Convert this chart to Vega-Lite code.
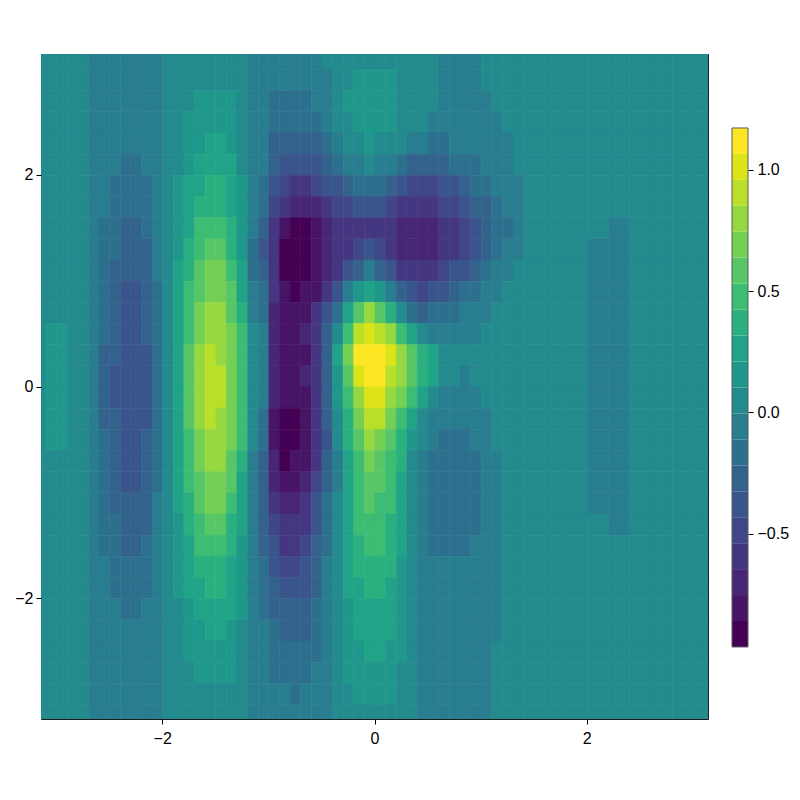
{"$schema":"https://vega.github.io/schema/vega-lite/v6.json","autosize":{"type":"pad"},"padding":{"left":14,"top":53,"right":5,"bottom":5},"background":"white","bounds":"flush","spacing":24,"resolve":{"scale":{"color":"independent"}},"config":{"view":{"stroke":null},"font":"Liberation Sans","axis":{"labelFont":"Liberation Sans","labelFontSize":16,"labelColor":"#000","tickColor":"#000","tickSize":5,"domain":false,"grid":false,"title":null}},
"hconcat":[
{"width":667,"height":665,"view":{"stroke":"#1c1c1c","strokeWidth":1},
"layer":[
{"data":{"values":[
{"x":-3.15,"y":3.1,"z":0.01},{"x":-3.15,"y":2.9,"z":0.01},{"x":-3.15,"y":2.7,"z":0.01},{"x":-3.15,"y":2.5,"z":0.02},{"x":-3.15,"y":2.3,"z":0.02},{"x":-3.15,"y":2.1,"z":0.03},{"x":-3.15,"y":1.9,"z":0.04},{"x":-3.15,"y":1.7,"z":0.04},{"x":-3.15,"y":1.5,"z":0.05},{"x":-3.15,"y":1.3,"z":0.06},{"x":-3.15,"y":1.1,"z":0.07},{"x":-3.15,"y":0.9,"z":0.08},{"x":-3.15,"y":0.7,"z":0.08},{"x":-3.15,"y":0.5,"z":0.09},{"x":-3.15,"y":0.3,"z":0.09},{"x":-3.15,"y":0.1,"z":0.095},{"x":-3.15,"y":-0.1,"z":0.095},{"x":-3.15,"y":-0.3,"z":0.09},{"x":-3.15,"y":-0.5,"z":0.09},{"x":-3.15,"y":-0.7,"z":0.08},{"x":-3.15,"y":-0.9,"z":0.08},{"x":-3.15,"y":-1.1,"z":0.07},{"x":-3.15,"y":-1.3,"z":0.06},{"x":-3.15,"y":-1.5,"z":0.05},{"x":-3.15,"y":-1.7,"z":0.04},{"x":-3.15,"y":-1.9,"z":0.04},{"x":-3.15,"y":-2.1,"z":0.03},{"x":-3.15,"y":-2.3,"z":0.02},{"x":-3.15,"y":-2.5,"z":0.02},{"x":-3.15,"y":-2.7,"z":0.01},{"x":-3.15,"y":-2.9,"z":0.01},{"x":-3.15,"y":-3.1,"z":0.01},
{"x":-3.05,"y":3.1,"z":0.01},{"x":-3.05,"y":2.9,"z":0.01},{"x":-3.05,"y":2.7,"z":0.02},{"x":-3.05,"y":2.5,"z":0.02},{"x":-3.05,"y":2.3,"z":0.03},{"x":-3.05,"y":2.1,"z":0.04},{"x":-3.05,"y":1.9,"z":0.05},{"x":-3.05,"y":1.7,"z":0.06},{"x":-3.05,"y":1.5,"z":0.07},{"x":-3.05,"y":1.3,"z":0.08},{"x":-3.05,"y":1.1,"z":0.09},{"x":-3.05,"y":0.9,"z":0.097},{"x":-3.05,"y":0.7,"z":0.1},{"x":-3.05,"y":0.5,"z":0.112},{"x":-3.05,"y":0.3,"z":0.117},{"x":-3.05,"y":0.1,"z":0.12},{"x":-3.05,"y":-0.1,"z":0.12},{"x":-3.05,"y":-0.3,"z":0.117},{"x":-3.05,"y":-0.5,"z":0.112},{"x":-3.05,"y":-0.7,"z":0.1},{"x":-3.05,"y":-0.9,"z":0.097},{"x":-3.05,"y":-1.1,"z":0.09},{"x":-3.05,"y":-1.3,"z":0.08},{"x":-3.05,"y":-1.5,"z":0.07},{"x":-3.05,"y":-1.7,"z":0.06},{"x":-3.05,"y":-1.9,"z":0.05},{"x":-3.05,"y":-2.1,"z":0.04},{"x":-3.05,"y":-2.3,"z":0.03},{"x":-3.05,"y":-2.5,"z":0.02},{"x":-3.05,"y":-2.7,"z":0.02},{"x":-3.05,"y":-2.9,"z":0.01},{"x":-3.05,"y":-3.1,"z":0.01},
{"x":-2.95,"y":3.1,"z":0.01},{"x":-2.95,"y":2.9,"z":0.01},{"x":-2.95,"y":2.7,"z":0.02},{"x":-2.95,"y":2.5,"z":0.02},{"x":-2.95,"y":2.3,"z":0.03},{"x":-2.95,"y":2.1,"z":0.04},{"x":-2.95,"y":1.9,"z":0.04},{"x":-2.95,"y":1.7,"z":0.05},{"x":-2.95,"y":1.5,"z":0.06},{"x":-2.95,"y":1.3,"z":0.07},{"x":-2.95,"y":1.1,"z":0.08},{"x":-2.95,"y":0.9,"z":0.09},{"x":-2.95,"y":0.7,"z":0.099},{"x":-2.95,"y":0.5,"z":0.105},{"x":-2.95,"y":0.3,"z":0.109},{"x":-2.95,"y":0.1,"z":0.112},{"x":-2.95,"y":-0.1,"z":0.112},{"x":-2.95,"y":-0.3,"z":0.109},{"x":-2.95,"y":-0.5,"z":0.105},{"x":-2.95,"y":-0.7,"z":0.099},{"x":-2.95,"y":-0.9,"z":0.09},{"x":-2.95,"y":-1.1,"z":0.08},{"x":-2.95,"y":-1.3,"z":0.07},{"x":-2.95,"y":-1.5,"z":0.06},{"x":-2.95,"y":-1.7,"z":0.05},{"x":-2.95,"y":-1.9,"z":0.04},{"x":-2.95,"y":-2.1,"z":0.04},{"x":-2.95,"y":-2.3,"z":0.03},{"x":-2.95,"y":-2.5,"z":0.02},{"x":-2.95,"y":-2.7,"z":0.02},{"x":-2.95,"y":-2.9,"z":0.01},{"x":-2.95,"y":-3.1,"z":0.01},
{"x":-2.85,"y":3.1,"z":0.01},{"x":-2.85,"y":2.9,"z":0.01},{"x":-2.85,"y":2.7,"z":0.01},{"x":-2.85,"y":2.5,"z":0.02},{"x":-2.85,"y":2.3,"z":0.02},{"x":-2.85,"y":2.1,"z":0.03},{"x":-2.85,"y":1.9,"z":0.03},{"x":-2.85,"y":1.7,"z":0.04},{"x":-2.85,"y":1.5,"z":0.04},{"x":-2.85,"y":1.3,"z":0.05},{"x":-2.85,"y":1.1,"z":0.06},{"x":-2.85,"y":0.9,"z":0.06},{"x":-2.85,"y":0.7,"z":0.07},{"x":-2.85,"y":0.5,"z":0.07},{"x":-2.85,"y":0.3,"z":0.08},{"x":-2.85,"y":0.1,"z":0.08},{"x":-2.85,"y":-0.1,"z":0.08},{"x":-2.85,"y":-0.3,"z":0.08},{"x":-2.85,"y":-0.5,"z":0.07},{"x":-2.85,"y":-0.7,"z":0.07},{"x":-2.85,"y":-0.9,"z":0.06},{"x":-2.85,"y":-1.1,"z":0.06},{"x":-2.85,"y":-1.3,"z":0.05},{"x":-2.85,"y":-1.5,"z":0.04},{"x":-2.85,"y":-1.7,"z":0.04},{"x":-2.85,"y":-1.9,"z":0.03},{"x":-2.85,"y":-2.1,"z":0.03},{"x":-2.85,"y":-2.3,"z":0.02},{"x":-2.85,"y":-2.5,"z":0.02},{"x":-2.85,"y":-2.7,"z":0.01},{"x":-2.85,"y":-2.9,"z":0.01},{"x":-2.85,"y":-3.1,"z":0.01},
{"x":-2.75,"y":3.1,"z":0},{"x":-2.75,"y":2.9,"z":0},{"x":-2.75,"y":2.7,"z":0},{"x":-2.75,"y":2.5,"z":0},{"x":-2.75,"y":2.3,"z":0},{"x":-2.75,"y":2.1,"z":0},{"x":-2.75,"y":1.9,"z":0.01},{"x":-2.75,"y":1.7,"z":0.01},{"x":-2.75,"y":1.5,"z":0.01},{"x":-2.75,"y":1.3,"z":0.01},{"x":-2.75,"y":1.1,"z":0.01},{"x":-2.75,"y":0.9,"z":0.01},{"x":-2.75,"y":0.7,"z":0.01},{"x":-2.75,"y":0.5,"z":0.01},{"x":-2.75,"y":0.3,"z":0.01},{"x":-2.75,"y":0.1,"z":0.015},{"x":-2.75,"y":-0.1,"z":0.015},{"x":-2.75,"y":-0.3,"z":0.01},{"x":-2.75,"y":-0.5,"z":0.01},{"x":-2.75,"y":-0.7,"z":0.01},{"x":-2.75,"y":-0.9,"z":0.01},{"x":-2.75,"y":-1.1,"z":0.01},{"x":-2.75,"y":-1.3,"z":0.01},{"x":-2.75,"y":-1.5,"z":0.01},{"x":-2.75,"y":-1.7,"z":0.01},{"x":-2.75,"y":-1.9,"z":0},{"x":-2.75,"y":-2.1,"z":0},{"x":-2.75,"y":-2.3,"z":0},{"x":-2.75,"y":-2.5,"z":0},{"x":-2.75,"y":-2.7,"z":0},{"x":-2.75,"y":-2.9,"z":0},{"x":-2.75,"y":-3.1,"z":0},
{"x":-2.65,"y":3.1,"z":-0.01},{"x":-2.65,"y":2.9,"z":-0.01},{"x":-2.65,"y":2.7,"z":-0.01},{"x":-2.65,"y":2.5,"z":-0.02},{"x":-2.65,"y":2.3,"z":-0.02},{"x":-2.65,"y":2.1,"z":-0.03},{"x":-2.65,"y":1.9,"z":-0.04},{"x":-2.65,"y":1.7,"z":-0.04},{"x":-2.65,"y":1.5,"z":-0.05},{"x":-2.65,"y":1.3,"z":-0.06},{"x":-2.65,"y":1.1,"z":-0.07},{"x":-2.65,"y":0.9,"z":-0.07},{"x":-2.65,"y":0.7,"z":-0.08},{"x":-2.65,"y":0.5,"z":-0.08},{"x":-2.65,"y":0.3,"z":-0.09},{"x":-2.65,"y":0.1,"z":-0.09},{"x":-2.65,"y":-0.1,"z":-0.09},{"x":-2.65,"y":-0.3,"z":-0.09},{"x":-2.65,"y":-0.5,"z":-0.08},{"x":-2.65,"y":-0.7,"z":-0.08},{"x":-2.65,"y":-0.9,"z":-0.07},{"x":-2.65,"y":-1.1,"z":-0.07},{"x":-2.65,"y":-1.3,"z":-0.06},{"x":-2.65,"y":-1.5,"z":-0.05},{"x":-2.65,"y":-1.7,"z":-0.04},{"x":-2.65,"y":-1.9,"z":-0.04},{"x":-2.65,"y":-2.1,"z":-0.03},{"x":-2.65,"y":-2.3,"z":-0.02},{"x":-2.65,"y":-2.5,"z":-0.02},{"x":-2.65,"y":-2.7,"z":-0.01},{"x":-2.65,"y":-2.9,"z":-0.01},{"x":-2.65,"y":-3.1,"z":-0.01},
{"x":-2.55,"y":3.1,"z":-0.02},{"x":-2.55,"y":2.9,"z":-0.02},{"x":-2.55,"y":2.7,"z":-0.03},{"x":-2.55,"y":2.5,"z":-0.04},{"x":-2.55,"y":2.3,"z":-0.06},{"x":-2.55,"y":2.1,"z":-0.07},{"x":-2.55,"y":1.9,"z":-0.09},{"x":-2.55,"y":1.7,"z":-0.1},{"x":-2.55,"y":1.5,"z":-0.12},{"x":-2.55,"y":1.3,"z":-0.14},{"x":-2.55,"y":1.1,"z":-0.16},{"x":-2.55,"y":0.9,"z":-0.18},{"x":-2.55,"y":0.7,"z":-0.19},{"x":-2.55,"y":0.5,"z":-0.21},{"x":-2.55,"y":0.3,"z":-0.22},{"x":-2.55,"y":0.1,"z":-0.22},{"x":-2.55,"y":-0.1,"z":-0.22},{"x":-2.55,"y":-0.3,"z":-0.22},{"x":-2.55,"y":-0.5,"z":-0.21},{"x":-2.55,"y":-0.7,"z":-0.19},{"x":-2.55,"y":-0.9,"z":-0.18},{"x":-2.55,"y":-1.1,"z":-0.16},{"x":-2.55,"y":-1.3,"z":-0.14},{"x":-2.55,"y":-1.5,"z":-0.12},{"x":-2.55,"y":-1.7,"z":-0.1},{"x":-2.55,"y":-1.9,"z":-0.09},{"x":-2.55,"y":-2.1,"z":-0.07},{"x":-2.55,"y":-2.3,"z":-0.06},{"x":-2.55,"y":-2.5,"z":-0.04},{"x":-2.55,"y":-2.7,"z":-0.03},{"x":-2.55,"y":-2.9,"z":-0.02},{"x":-2.55,"y":-3.1,"z":-0.02},
{"x":-2.45,"y":3.1,"z":-0.03},{"x":-2.45,"y":2.9,"z":-0.04},{"x":-2.45,"y":2.7,"z":-0.05},{"x":-2.45,"y":2.5,"z":-0.07},{"x":-2.45,"y":2.3,"z":-0.08},{"x":-2.45,"y":2.1,"z":-0.1},{"x":-2.45,"y":1.9,"z":-0.13},{"x":-2.45,"y":1.7,"z":-0.16},{"x":-2.45,"y":1.5,"z":-0.18},{"x":-2.45,"y":1.3,"z":-0.21},{"x":-2.45,"y":1.1,"z":-0.24},{"x":-2.45,"y":0.9,"z":-0.27},{"x":-2.45,"y":0.7,"z":-0.29},{"x":-2.45,"y":0.5,"z":-0.31},{"x":-2.45,"y":0.3,"z":-0.32},{"x":-2.45,"y":0.1,"z":-0.33},{"x":-2.45,"y":-0.1,"z":-0.33},{"x":-2.45,"y":-0.3,"z":-0.32},{"x":-2.45,"y":-0.5,"z":-0.31},{"x":-2.45,"y":-0.7,"z":-0.29},{"x":-2.45,"y":-0.9,"z":-0.27},{"x":-2.45,"y":-1.1,"z":-0.24},{"x":-2.45,"y":-1.3,"z":-0.21},{"x":-2.45,"y":-1.5,"z":-0.18},{"x":-2.45,"y":-1.7,"z":-0.16},{"x":-2.45,"y":-1.9,"z":-0.13},{"x":-2.45,"y":-2.1,"z":-0.1},{"x":-2.45,"y":-2.3,"z":-0.08},{"x":-2.45,"y":-2.5,"z":-0.07},{"x":-2.45,"y":-2.7,"z":-0.05},{"x":-2.45,"y":-2.9,"z":-0.04},{"x":-2.45,"y":-3.1,"z":-0.03},
{"x":-2.35,"y":3.1,"z":-0.03},{"x":-2.35,"y":2.9,"z":-0.05},{"x":-2.35,"y":2.7,"z":-0.06},{"x":-2.35,"y":2.5,"z":-0.08},{"x":-2.35,"y":2.3,"z":-0.11},{"x":-2.35,"y":2.1,"z":-0.13},{"x":-2.35,"y":1.9,"z":-0.16},{"x":-2.35,"y":1.7,"z":-0.2},{"x":-2.35,"y":1.5,"z":-0.23},{"x":-2.35,"y":1.3,"z":-0.27},{"x":-2.35,"y":1.1,"z":-0.31},{"x":-2.35,"y":0.9,"z":-0.34},{"x":-2.35,"y":0.7,"z":-0.37},{"x":-2.35,"y":0.5,"z":-0.39},{"x":-2.35,"y":0.3,"z":-0.41},{"x":-2.35,"y":0.1,"z":-0.42},{"x":-2.35,"y":-0.1,"z":-0.42},{"x":-2.35,"y":-0.3,"z":-0.41},{"x":-2.35,"y":-0.5,"z":-0.39},{"x":-2.35,"y":-0.7,"z":-0.37},{"x":-2.35,"y":-0.9,"z":-0.34},{"x":-2.35,"y":-1.1,"z":-0.31},{"x":-2.35,"y":-1.3,"z":-0.27},{"x":-2.35,"y":-1.5,"z":-0.23},{"x":-2.35,"y":-1.7,"z":-0.2},{"x":-2.35,"y":-1.9,"z":-0.16},{"x":-2.35,"y":-2.1,"z":-0.13},{"x":-2.35,"y":-2.3,"z":-0.11},{"x":-2.35,"y":-2.5,"z":-0.08},{"x":-2.35,"y":-2.7,"z":-0.06},{"x":-2.35,"y":-2.9,"z":-0.05},{"x":-2.35,"y":-3.1,"z":-0.03},
{"x":-2.25,"y":3.1,"z":-0.03},{"x":-2.25,"y":2.9,"z":-0.05},{"x":-2.25,"y":2.7,"z":-0.06},{"x":-2.25,"y":2.5,"z":-0.08},{"x":-2.25,"y":2.3,"z":-0.11},{"x":-2.25,"y":2.1,"z":-0.13},{"x":-2.25,"y":1.9,"z":-0.16},{"x":-2.25,"y":1.7,"z":-0.2},{"x":-2.25,"y":1.5,"z":-0.23},{"x":-2.25,"y":1.3,"z":-0.27},{"x":-2.25,"y":1.1,"z":-0.31},{"x":-2.25,"y":0.9,"z":-0.34},{"x":-2.25,"y":0.7,"z":-0.37},{"x":-2.25,"y":0.5,"z":-0.39},{"x":-2.25,"y":0.3,"z":-0.41},{"x":-2.25,"y":0.1,"z":-0.42},{"x":-2.25,"y":-0.1,"z":-0.42},{"x":-2.25,"y":-0.3,"z":-0.41},{"x":-2.25,"y":-0.5,"z":-0.39},{"x":-2.25,"y":-0.7,"z":-0.37},{"x":-2.25,"y":-0.9,"z":-0.34},{"x":-2.25,"y":-1.1,"z":-0.31},{"x":-2.25,"y":-1.3,"z":-0.27},{"x":-2.25,"y":-1.5,"z":-0.23},{"x":-2.25,"y":-1.7,"z":-0.2},{"x":-2.25,"y":-1.9,"z":-0.16},{"x":-2.25,"y":-2.1,"z":-0.13},{"x":-2.25,"y":-2.3,"z":-0.11},{"x":-2.25,"y":-2.5,"z":-0.08},{"x":-2.25,"y":-2.7,"z":-0.06},{"x":-2.25,"y":-2.9,"z":-0.05},{"x":-2.25,"y":-3.1,"z":-0.03},
{"x":-2.15,"y":3.1,"z":-0.03},{"x":-2.15,"y":2.9,"z":-0.04},{"x":-2.15,"y":2.7,"z":-0.05},{"x":-2.15,"y":2.5,"z":-0.07},{"x":-2.15,"y":2.3,"z":-0.09},{"x":-2.15,"y":2.1,"z":-0.11},{"x":-2.15,"y":1.9,"z":-0.13},{"x":-2.15,"y":1.7,"z":-0.16},{"x":-2.15,"y":1.5,"z":-0.19},{"x":-2.15,"y":1.3,"z":-0.22},{"x":-2.15,"y":1.1,"z":-0.25},{"x":-2.15,"y":0.9,"z":-0.28},{"x":-2.15,"y":0.7,"z":-0.3},{"x":-2.15,"y":0.5,"z":-0.32},{"x":-2.15,"y":0.3,"z":-0.33},{"x":-2.15,"y":0.1,"z":-0.34},{"x":-2.15,"y":-0.1,"z":-0.34},{"x":-2.15,"y":-0.3,"z":-0.33},{"x":-2.15,"y":-0.5,"z":-0.32},{"x":-2.15,"y":-0.7,"z":-0.3},{"x":-2.15,"y":-0.9,"z":-0.28},{"x":-2.15,"y":-1.1,"z":-0.25},{"x":-2.15,"y":-1.3,"z":-0.22},{"x":-2.15,"y":-1.5,"z":-0.19},{"x":-2.15,"y":-1.7,"z":-0.16},{"x":-2.15,"y":-1.9,"z":-0.13},{"x":-2.15,"y":-2.1,"z":-0.11},{"x":-2.15,"y":-2.3,"z":-0.09},{"x":-2.15,"y":-2.5,"z":-0.07},{"x":-2.15,"y":-2.7,"z":-0.05},{"x":-2.15,"y":-2.9,"z":-0.04},{"x":-2.15,"y":-3.1,"z":-0.03},
{"x":-2.05,"y":3.1,"z":-0.01},{"x":-2.05,"y":2.9,"z":-0.02},{"x":-2.05,"y":2.7,"z":-0.02},{"x":-2.05,"y":2.5,"z":-0.03},{"x":-2.05,"y":2.3,"z":-0.04},{"x":-2.05,"y":2.1,"z":-0.05},{"x":-2.05,"y":1.9,"z":-0.06},{"x":-2.05,"y":1.7,"z":-0.07},{"x":-2.05,"y":1.5,"z":-0.08},{"x":-2.05,"y":1.3,"z":-0.1},{"x":-2.05,"y":1.1,"z":-0.11},{"x":-2.05,"y":0.9,"z":-0.12},{"x":-2.05,"y":0.7,"z":-0.13},{"x":-2.05,"y":0.5,"z":-0.14},{"x":-2.05,"y":0.3,"z":-0.15},{"x":-2.05,"y":0.1,"z":-0.15},{"x":-2.05,"y":-0.1,"z":-0.15},{"x":-2.05,"y":-0.3,"z":-0.15},{"x":-2.05,"y":-0.5,"z":-0.14},{"x":-2.05,"y":-0.7,"z":-0.13},{"x":-2.05,"y":-0.9,"z":-0.12},{"x":-2.05,"y":-1.1,"z":-0.11},{"x":-2.05,"y":-1.3,"z":-0.1},{"x":-2.05,"y":-1.5,"z":-0.08},{"x":-2.05,"y":-1.7,"z":-0.07},{"x":-2.05,"y":-1.9,"z":-0.06},{"x":-2.05,"y":-2.1,"z":-0.05},{"x":-2.05,"y":-2.3,"z":-0.04},{"x":-2.05,"y":-2.5,"z":-0.03},{"x":-2.05,"y":-2.7,"z":-0.02},{"x":-2.05,"y":-2.9,"z":-0.02},{"x":-2.05,"y":-3.1,"z":-0.01},
{"x":-1.95,"y":3.1,"z":0.01},{"x":-1.95,"y":2.9,"z":0.01},{"x":-1.95,"y":2.7,"z":0.01},{"x":-1.95,"y":2.5,"z":0.01},{"x":-1.95,"y":2.3,"z":0.02},{"x":-1.95,"y":2.1,"z":0.02},{"x":-1.95,"y":1.9,"z":0.02},{"x":-1.95,"y":1.7,"z":0.03},{"x":-1.95,"y":1.5,"z":0.03},{"x":-1.95,"y":1.3,"z":0.04},{"x":-1.95,"y":1.1,"z":0.04},{"x":-1.95,"y":0.9,"z":0.05},{"x":-1.95,"y":0.7,"z":0.05},{"x":-1.95,"y":0.5,"z":0.06},{"x":-1.95,"y":0.3,"z":0.06},{"x":-1.95,"y":0.1,"z":0.06},{"x":-1.95,"y":-0.1,"z":0.06},{"x":-1.95,"y":-0.3,"z":0.06},{"x":-1.95,"y":-0.5,"z":0.06},{"x":-1.95,"y":-0.7,"z":0.05},{"x":-1.95,"y":-0.9,"z":0.05},{"x":-1.95,"y":-1.1,"z":0.04},{"x":-1.95,"y":-1.3,"z":0.04},{"x":-1.95,"y":-1.5,"z":0.03},{"x":-1.95,"y":-1.7,"z":0.03},{"x":-1.95,"y":-1.9,"z":0.02},{"x":-1.95,"y":-2.1,"z":0.02},{"x":-1.95,"y":-2.3,"z":0.02},{"x":-1.95,"y":-2.5,"z":0.01},{"x":-1.95,"y":-2.7,"z":0.01},{"x":-1.95,"y":-2.9,"z":0.01},{"x":-1.95,"y":-3.1,"z":0.01},
{"x":-1.85,"y":3.1,"z":0.02},{"x":-1.85,"y":2.9,"z":0.03},{"x":-1.85,"y":2.7,"z":0.05},{"x":-1.85,"y":2.5,"z":0.06},{"x":-1.85,"y":2.3,"z":0.08},{"x":-1.85,"y":2.1,"z":0.1},{"x":-1.85,"y":1.9,"z":0.12},{"x":-1.85,"y":1.7,"z":0.14},{"x":-1.85,"y":1.5,"z":0.17},{"x":-1.85,"y":1.3,"z":0.19},{"x":-1.85,"y":1.1,"z":0.22},{"x":-1.85,"y":0.9,"z":0.24},{"x":-1.85,"y":0.7,"z":0.26},{"x":-1.85,"y":0.5,"z":0.28},{"x":-1.85,"y":0.3,"z":0.29},{"x":-1.85,"y":0.1,"z":0.3},{"x":-1.85,"y":-0.1,"z":0.3},{"x":-1.85,"y":-0.3,"z":0.29},{"x":-1.85,"y":-0.5,"z":0.28},{"x":-1.85,"y":-0.7,"z":0.26},{"x":-1.85,"y":-0.9,"z":0.24},{"x":-1.85,"y":-1.1,"z":0.22},{"x":-1.85,"y":-1.3,"z":0.19},{"x":-1.85,"y":-1.5,"z":0.17},{"x":-1.85,"y":-1.7,"z":0.14},{"x":-1.85,"y":-1.9,"z":0.12},{"x":-1.85,"y":-2.1,"z":0.1},{"x":-1.85,"y":-2.3,"z":0.08},{"x":-1.85,"y":-2.5,"z":0.06},{"x":-1.85,"y":-2.7,"z":0.05},{"x":-1.85,"y":-2.9,"z":0.03},{"x":-1.85,"y":-3.1,"z":0.02},
{"x":-1.75,"y":3.1,"z":0.05},{"x":-1.75,"y":2.9,"z":0.06},{"x":-1.75,"y":2.7,"z":0.08},{"x":-1.75,"y":2.5,"z":0.11},{"x":-1.75,"y":2.3,"z":0.14},{"x":-1.75,"y":2.1,"z":0.18},{"x":-1.75,"y":1.9,"z":0.22},{"x":-1.75,"y":1.7,"z":0.26},{"x":-1.75,"y":1.5,"z":0.31},{"x":-1.75,"y":1.3,"z":0.36},{"x":-1.75,"y":1.1,"z":0.41},{"x":-1.75,"y":0.9,"z":0.45},{"x":-1.75,"y":0.7,"z":0.49},{"x":-1.75,"y":0.5,"z":0.52},{"x":-1.75,"y":0.3,"z":0.55},{"x":-1.75,"y":0.1,"z":0.56},{"x":-1.75,"y":-0.1,"z":0.56},{"x":-1.75,"y":-0.3,"z":0.55},{"x":-1.75,"y":-0.5,"z":0.52},{"x":-1.75,"y":-0.7,"z":0.49},{"x":-1.75,"y":-0.9,"z":0.45},{"x":-1.75,"y":-1.1,"z":0.41},{"x":-1.75,"y":-1.3,"z":0.36},{"x":-1.75,"y":-1.5,"z":0.31},{"x":-1.75,"y":-1.7,"z":0.26},{"x":-1.75,"y":-1.9,"z":0.22},{"x":-1.75,"y":-2.1,"z":0.18},{"x":-1.75,"y":-2.3,"z":0.14},{"x":-1.75,"y":-2.5,"z":0.11},{"x":-1.75,"y":-2.7,"z":0.08},{"x":-1.75,"y":-2.9,"z":0.06},{"x":-1.75,"y":-3.1,"z":0.05},
{"x":-1.65,"y":3.1,"z":0.06},{"x":-1.65,"y":2.9,"z":0.09},{"x":-1.65,"y":2.7,"z":0.12},{"x":-1.65,"y":2.5,"z":0.15},{"x":-1.65,"y":2.3,"z":0.2},{"x":-1.65,"y":2.1,"z":0.25},{"x":-1.65,"y":1.9,"z":0.3},{"x":-1.65,"y":1.7,"z":0.37},{"x":-1.65,"y":1.5,"z":0.43},{"x":-1.65,"y":1.3,"z":0.5},{"x":-1.65,"y":1.1,"z":0.57},{"x":-1.65,"y":0.9,"z":0.63},{"x":-1.65,"y":0.7,"z":0.69},{"x":-1.65,"y":0.5,"z":0.73},{"x":-1.65,"y":0.3,"z":0.76},{"x":-1.65,"y":0.1,"z":0.78},{"x":-1.65,"y":-0.1,"z":0.78},{"x":-1.65,"y":-0.3,"z":0.76},{"x":-1.65,"y":-0.5,"z":0.73},{"x":-1.65,"y":-0.7,"z":0.69},{"x":-1.65,"y":-0.9,"z":0.63},{"x":-1.65,"y":-1.1,"z":0.57},{"x":-1.65,"y":-1.3,"z":0.5},{"x":-1.65,"y":-1.5,"z":0.43},{"x":-1.65,"y":-1.7,"z":0.37},{"x":-1.65,"y":-1.9,"z":0.3},{"x":-1.65,"y":-2.1,"z":0.25},{"x":-1.65,"y":-2.3,"z":0.2},{"x":-1.65,"y":-2.5,"z":0.15},{"x":-1.65,"y":-2.7,"z":0.12},{"x":-1.65,"y":-2.9,"z":0.09},{"x":-1.65,"y":-3.1,"z":0.06},
{"x":-1.55,"y":3.1,"z":0.07},{"x":-1.55,"y":2.9,"z":0.1},{"x":-1.55,"y":2.7,"z":0.13},{"x":-1.55,"y":2.5,"z":0.18},{"x":-1.55,"y":2.3,"z":0.23},{"x":-1.55,"y":2.1,"z":0.28},{"x":-1.55,"y":1.9,"z":0.35},{"x":-1.55,"y":1.7,"z":0.42},{"x":-1.55,"y":1.5,"z":0.5},{"x":-1.55,"y":1.3,"z":0.57},{"x":-1.55,"y":1.1,"z":0.65},{"x":-1.55,"y":0.9,"z":0.72},{"x":-1.55,"y":0.7,"z":0.78},{"x":-1.55,"y":0.5,"z":0.83},{"x":-1.55,"y":0.3,"z":0.87},{"x":-1.55,"y":0.1,"z":0.89},{"x":-1.55,"y":-0.1,"z":0.89},{"x":-1.55,"y":-0.3,"z":0.87},{"x":-1.55,"y":-0.5,"z":0.83},{"x":-1.55,"y":-0.7,"z":0.78},{"x":-1.55,"y":-0.9,"z":0.72},{"x":-1.55,"y":-1.1,"z":0.65},{"x":-1.55,"y":-1.3,"z":0.57},{"x":-1.55,"y":-1.5,"z":0.5},{"x":-1.55,"y":-1.7,"z":0.42},{"x":-1.55,"y":-1.9,"z":0.35},{"x":-1.55,"y":-2.1,"z":0.28},{"x":-1.55,"y":-2.3,"z":0.23},{"x":-1.55,"y":-2.5,"z":0.18},{"x":-1.55,"y":-2.7,"z":0.13},{"x":-1.55,"y":-2.9,"z":0.1},{"x":-1.55,"y":-3.1,"z":0.07},
{"x":-1.45,"y":3.1,"z":0.07},{"x":-1.45,"y":2.9,"z":0.1},{"x":-1.45,"y":2.7,"z":0.13},{"x":-1.45,"y":2.5,"z":0.17},{"x":-1.45,"y":2.3,"z":0.22},{"x":-1.45,"y":2.1,"z":0.28},{"x":-1.45,"y":1.9,"z":0.34},{"x":-1.45,"y":1.7,"z":0.41},{"x":-1.45,"y":1.5,"z":0.48},{"x":-1.45,"y":1.3,"z":0.56},{"x":-1.45,"y":1.1,"z":0.64},{"x":-1.45,"y":0.9,"z":0.7},{"x":-1.45,"y":0.7,"z":0.77},{"x":-1.45,"y":0.5,"z":0.82},{"x":-1.45,"y":0.3,"z":0.85},{"x":-1.45,"y":0.1,"z":0.87},{"x":-1.45,"y":-0.1,"z":0.87},{"x":-1.45,"y":-0.3,"z":0.85},{"x":-1.45,"y":-0.5,"z":0.82},{"x":-1.45,"y":-0.7,"z":0.77},{"x":-1.45,"y":-0.9,"z":0.7},{"x":-1.45,"y":-1.1,"z":0.64},{"x":-1.45,"y":-1.3,"z":0.56},{"x":-1.45,"y":-1.5,"z":0.48},{"x":-1.45,"y":-1.7,"z":0.41},{"x":-1.45,"y":-1.9,"z":0.34},{"x":-1.45,"y":-2.1,"z":0.28},{"x":-1.45,"y":-2.3,"z":0.22},{"x":-1.45,"y":-2.5,"z":0.17},{"x":-1.45,"y":-2.7,"z":0.13},{"x":-1.45,"y":-2.9,"z":0.1},{"x":-1.45,"y":-3.1,"z":0.07},
{"x":-1.35,"y":3.1,"z":0.06},{"x":-1.35,"y":2.9,"z":0.08},{"x":-1.35,"y":2.7,"z":0.11},{"x":-1.35,"y":2.5,"z":0.14},{"x":-1.35,"y":2.3,"z":0.18},{"x":-1.35,"y":2.1,"z":0.23},{"x":-1.35,"y":1.9,"z":0.26},{"x":-1.35,"y":1.7,"z":0.31},{"x":-1.35,"y":1.5,"z":0.37},{"x":-1.35,"y":1.3,"z":0.42},{"x":-1.35,"y":1.1,"z":0.49},{"x":-1.35,"y":0.9,"z":0.58},{"x":-1.35,"y":0.7,"z":0.63},{"x":-1.35,"y":0.5,"z":0.67},{"x":-1.35,"y":0.3,"z":0.7},{"x":-1.35,"y":0.1,"z":0.72},{"x":-1.35,"y":-0.1,"z":0.72},{"x":-1.35,"y":-0.3,"z":0.7},{"x":-1.35,"y":-0.5,"z":0.67},{"x":-1.35,"y":-0.7,"z":0.63},{"x":-1.35,"y":-0.9,"z":0.58},{"x":-1.35,"y":-1.1,"z":0.49},{"x":-1.35,"y":-1.3,"z":0.42},{"x":-1.35,"y":-1.5,"z":0.37},{"x":-1.35,"y":-1.7,"z":0.31},{"x":-1.35,"y":-1.9,"z":0.26},{"x":-1.35,"y":-2.1,"z":0.23},{"x":-1.35,"y":-2.3,"z":0.18},{"x":-1.35,"y":-2.5,"z":0.14},{"x":-1.35,"y":-2.7,"z":0.11},{"x":-1.35,"y":-2.9,"z":0.08},{"x":-1.35,"y":-3.1,"z":0.06},
{"x":-1.25,"y":3.1,"z":0.03},{"x":-1.25,"y":2.9,"z":0.03},{"x":-1.25,"y":2.7,"z":0.05},{"x":-1.25,"y":2.5,"z":0.06},{"x":-1.25,"y":2.3,"z":0.08},{"x":-1.25,"y":2.1,"z":0.1},{"x":-1.25,"y":1.9,"z":0.12},{"x":-1.25,"y":1.7,"z":0.15},{"x":-1.25,"y":1.5,"z":0.17},{"x":-1.25,"y":1.3,"z":0.2},{"x":-1.25,"y":1.1,"z":0.22},{"x":-1.25,"y":0.9,"z":0.3},{"x":-1.25,"y":0.7,"z":0.4},{"x":-1.25,"y":0.5,"z":0.47},{"x":-1.25,"y":0.3,"z":0.51},{"x":-1.25,"y":0.1,"z":0.52},{"x":-1.25,"y":-0.1,"z":0.52},{"x":-1.25,"y":-0.3,"z":0.5},{"x":-1.25,"y":-0.5,"z":0.46},{"x":-1.25,"y":-0.7,"z":0.4},{"x":-1.25,"y":-0.9,"z":0.31},{"x":-1.25,"y":-1.1,"z":0.26},{"x":-1.25,"y":-1.3,"z":0.23},{"x":-1.25,"y":-1.5,"z":0.2},{"x":-1.25,"y":-1.7,"z":0.17},{"x":-1.25,"y":-1.9,"z":0.14},{"x":-1.25,"y":-2.1,"z":0.11},{"x":-1.25,"y":-2.3,"z":0.09},{"x":-1.25,"y":-2.5,"z":0.07},{"x":-1.25,"y":-2.7,"z":0.05},{"x":-1.25,"y":-2.9,"z":0.04},{"x":-1.25,"y":-3.1,"z":0.03},
{"x":-1.15,"y":3.1,"z":-0.01},{"x":-1.15,"y":2.9,"z":-0.01},{"x":-1.15,"y":2.7,"z":-0.01},{"x":-1.15,"y":2.5,"z":-0.02},{"x":-1.15,"y":2.3,"z":-0.02},{"x":-1.15,"y":2.1,"z":-0.03},{"x":-1.15,"y":1.9,"z":-0.04},{"x":-1.15,"y":1.7,"z":-0.06},{"x":-1.15,"y":1.5,"z":-0.1},{"x":-1.15,"y":1.3,"z":-0.15},{"x":-1.15,"y":1.1,"z":-0.12},{"x":-1.15,"y":0.9,"z":-0.06},{"x":-1.15,"y":0.7,"z":-0.01},{"x":-1.15,"y":0.5,"z":0.03},{"x":-1.15,"y":0.3,"z":0.07},{"x":-1.15,"y":0.1,"z":0.1},{"x":-1.15,"y":-0.1,"z":0.1},{"x":-1.15,"y":-0.3,"z":0.07},{"x":-1.15,"y":-0.5,"z":0.02},{"x":-1.15,"y":-0.7,"z":-0.01},{"x":-1.15,"y":-0.9,"z":-0.02},{"x":-1.15,"y":-1.1,"z":-0.03},{"x":-1.15,"y":-1.3,"z":-0.03},{"x":-1.15,"y":-1.5,"z":-0.02},{"x":-1.15,"y":-1.7,"z":-0.02},{"x":-1.15,"y":-1.9,"z":-0.02},{"x":-1.15,"y":-2.1,"z":-0.01},{"x":-1.15,"y":-2.3,"z":-0.01},{"x":-1.15,"y":-2.5,"z":-0.01},{"x":-1.15,"y":-2.7,"z":-0.01},{"x":-1.15,"y":-2.9,"z":-0.01},{"x":-1.15,"y":-3.1,"z":-0.01},
{"x":-1.05,"y":3.1,"z":-0.03},{"x":-1.05,"y":2.9,"z":-0.04},{"x":-1.05,"y":2.7,"z":-0.05},{"x":-1.05,"y":2.5,"z":-0.06},{"x":-1.05,"y":2.3,"z":-0.08},{"x":-1.05,"y":2.1,"z":-0.1},{"x":-1.05,"y":1.9,"z":-0.13},{"x":-1.05,"y":1.7,"z":-0.2},{"x":-1.05,"y":1.5,"z":-0.3},{"x":-1.05,"y":1.3,"z":-0.38},{"x":-1.05,"y":1.1,"z":-0.32},{"x":-1.05,"y":0.9,"z":-0.2},{"x":-1.05,"y":0.7,"z":-0.13},{"x":-1.05,"y":0.5,"z":-0.08},{"x":-1.05,"y":0.3,"z":-0.04},{"x":-1.05,"y":0.1,"z":-0.03},{"x":-1.05,"y":-0.1,"z":-0.05},{"x":-1.05,"y":-0.3,"z":-0.12},{"x":-1.05,"y":-0.5,"z":-0.2},{"x":-1.05,"y":-0.7,"z":-0.25},{"x":-1.05,"y":-0.9,"z":-0.28},{"x":-1.05,"y":-1.1,"z":-0.32},{"x":-1.05,"y":-1.3,"z":-0.28},{"x":-1.05,"y":-1.5,"z":-0.25},{"x":-1.05,"y":-1.7,"z":-0.21},{"x":-1.05,"y":-1.9,"z":-0.18},{"x":-1.05,"y":-2.1,"z":-0.14},{"x":-1.05,"y":-2.3,"z":-0.11},{"x":-1.05,"y":-2.5,"z":-0.09},{"x":-1.05,"y":-2.7,"z":-0.07},{"x":-1.05,"y":-2.9,"z":-0.05},{"x":-1.05,"y":-3.1,"z":-0.04},
{"x":-0.95,"y":3.1,"z":-0.06},{"x":-0.95,"y":2.9,"z":-0.08},{"x":-0.95,"y":2.7,"z":-0.12},{"x":-0.95,"y":2.5,"z":-0.16},{"x":-0.95,"y":2.3,"z":-0.22},{"x":-0.95,"y":2.1,"z":-0.28},{"x":-0.95,"y":1.9,"z":-0.36},{"x":-0.95,"y":1.7,"z":-0.45},{"x":-0.95,"y":1.5,"z":-0.55},{"x":-0.95,"y":1.3,"z":-0.6},{"x":-0.95,"y":1.1,"z":-0.6},{"x":-0.95,"y":0.9,"z":-0.62},{"x":-0.95,"y":0.7,"z":-0.65},{"x":-0.95,"y":0.5,"z":-0.68},{"x":-0.95,"y":0.3,"z":-0.7},{"x":-0.95,"y":0.1,"z":-0.72},{"x":-0.95,"y":-0.1,"z":-0.74},{"x":-0.95,"y":-0.3,"z":-0.76},{"x":-0.95,"y":-0.5,"z":-0.77},{"x":-0.95,"y":-0.7,"z":-0.73},{"x":-0.95,"y":-0.9,"z":-0.66},{"x":-0.95,"y":-1.1,"z":-0.55},{"x":-0.95,"y":-1.3,"z":-0.49},{"x":-0.95,"y":-1.5,"z":-0.43},{"x":-0.95,"y":-1.7,"z":-0.37},{"x":-0.95,"y":-1.9,"z":-0.31},{"x":-0.95,"y":-2.1,"z":-0.24},{"x":-0.95,"y":-2.3,"z":-0.2},{"x":-0.95,"y":-2.5,"z":-0.16},{"x":-0.95,"y":-2.7,"z":-0.12},{"x":-0.95,"y":-2.9,"z":-0.09},{"x":-0.95,"y":-3.1,"z":-0.07},
{"x":-0.85,"y":3.1,"z":-0.07},{"x":-0.85,"y":2.9,"z":-0.11},{"x":-0.85,"y":2.7,"z":-0.14},{"x":-0.85,"y":2.5,"z":-0.2},{"x":-0.85,"y":2.3,"z":-0.27},{"x":-0.85,"y":2.1,"z":-0.37},{"x":-0.85,"y":1.9,"z":-0.48},{"x":-0.85,"y":1.7,"z":-0.62},{"x":-0.85,"y":1.5,"z":-0.8},{"x":-0.85,"y":1.3,"z":-0.88},{"x":-0.85,"y":1.1,"z":-0.88},{"x":-0.85,"y":0.9,"z":-0.83},{"x":-0.85,"y":0.7,"z":-0.8},{"x":-0.85,"y":0.5,"z":-0.79},{"x":-0.85,"y":0.3,"z":-0.79},{"x":-0.85,"y":0.1,"z":-0.81},{"x":-0.85,"y":-0.1,"z":-0.84},{"x":-0.85,"y":-0.3,"z":-0.87},{"x":-0.85,"y":-0.5,"z":-0.87},{"x":-0.85,"y":-0.7,"z":-0.87},{"x":-0.85,"y":-0.9,"z":-0.8},{"x":-0.85,"y":-1.1,"z":-0.69},{"x":-0.85,"y":-1.3,"z":-0.61},{"x":-0.85,"y":-1.5,"z":-0.54},{"x":-0.85,"y":-1.7,"z":-0.46},{"x":-0.85,"y":-1.9,"z":-0.38},{"x":-0.85,"y":-2.1,"z":-0.31},{"x":-0.85,"y":-2.3,"z":-0.25},{"x":-0.85,"y":-2.5,"z":-0.2},{"x":-0.85,"y":-2.7,"z":-0.15},{"x":-0.85,"y":-2.9,"z":-0.11},{"x":-0.85,"y":-3.1,"z":-0.09},
{"x":-0.75,"y":3.1,"z":-0.08},{"x":-0.75,"y":2.9,"z":-0.11},{"x":-0.75,"y":2.7,"z":-0.15},{"x":-0.75,"y":2.5,"z":-0.2},{"x":-0.75,"y":2.3,"z":-0.28},{"x":-0.75,"y":2.1,"z":-0.4},{"x":-0.75,"y":1.9,"z":-0.55},{"x":-0.75,"y":1.7,"z":-0.74},{"x":-0.75,"y":1.5,"z":-0.88},{"x":-0.75,"y":1.3,"z":-0.95},{"x":-0.75,"y":1.1,"z":-0.95},{"x":-0.75,"y":0.9,"z":-0.89},{"x":-0.75,"y":0.7,"z":-0.83},{"x":-0.75,"y":0.5,"z":-0.8},{"x":-0.75,"y":0.3,"z":-0.79},{"x":-0.75,"y":0.1,"z":-0.8},{"x":-0.75,"y":-0.1,"z":-0.84},{"x":-0.75,"y":-0.3,"z":-0.87},{"x":-0.75,"y":-0.5,"z":-0.88},{"x":-0.75,"y":-0.7,"z":-0.86},{"x":-0.75,"y":-0.9,"z":-0.79},{"x":-0.75,"y":-1.1,"z":-0.71},{"x":-0.75,"y":-1.3,"z":-0.63},{"x":-0.75,"y":-1.5,"z":-0.56},{"x":-0.75,"y":-1.7,"z":-0.48},{"x":-0.75,"y":-1.9,"z":-0.4},{"x":-0.75,"y":-2.1,"z":-0.32},{"x":-0.75,"y":-2.3,"z":-0.26},{"x":-0.75,"y":-2.5,"z":-0.21},{"x":-0.75,"y":-2.7,"z":-0.16},{"x":-0.75,"y":-2.9,"z":-0.12},{"x":-0.75,"y":-3.1,"z":-0.09},
{"x":-0.65,"y":3.1,"z":-0.06},{"x":-0.65,"y":2.9,"z":-0.09},{"x":-0.65,"y":2.7,"z":-0.13},{"x":-0.65,"y":2.5,"z":-0.18},{"x":-0.65,"y":2.3,"z":-0.26},{"x":-0.65,"y":2.1,"z":-0.38},{"x":-0.65,"y":1.9,"z":-0.54},{"x":-0.65,"y":1.7,"z":-0.72},{"x":-0.65,"y":1.5,"z":-0.87},{"x":-0.65,"y":1.3,"z":-0.95},{"x":-0.65,"y":1.1,"z":-0.93},{"x":-0.65,"y":0.9,"z":-0.86},{"x":-0.65,"y":0.7,"z":-0.78},{"x":-0.65,"y":0.5,"z":-0.75},{"x":-0.65,"y":0.3,"z":-0.77},{"x":-0.65,"y":0.1,"z":-0.75},{"x":-0.65,"y":-0.1,"z":-0.76},{"x":-0.65,"y":-0.3,"z":-0.78},{"x":-0.65,"y":-0.5,"z":-0.79},{"x":-0.65,"y":-0.7,"z":-0.76},{"x":-0.65,"y":-0.9,"z":-0.7},{"x":-0.65,"y":-1.1,"z":-0.62},{"x":-0.65,"y":-1.3,"z":-0.55},{"x":-0.65,"y":-1.5,"z":-0.48},{"x":-0.65,"y":-1.7,"z":-0.41},{"x":-0.65,"y":-1.9,"z":-0.34},{"x":-0.65,"y":-2.1,"z":-0.27},{"x":-0.65,"y":-2.3,"z":-0.22},{"x":-0.65,"y":-2.5,"z":-0.18},{"x":-0.65,"y":-2.7,"z":-0.14},{"x":-0.65,"y":-2.9,"z":-0.1},{"x":-0.65,"y":-3.1,"z":-0.08},
{"x":-0.55,"y":3.1,"z":-0.03},{"x":-0.55,"y":2.9,"z":-0.05},{"x":-0.55,"y":2.7,"z":-0.08},{"x":-0.55,"y":2.5,"z":-0.12},{"x":-0.55,"y":2.3,"z":-0.23},{"x":-0.55,"y":2.1,"z":-0.34},{"x":-0.55,"y":1.9,"z":-0.49},{"x":-0.55,"y":1.7,"z":-0.66},{"x":-0.55,"y":1.5,"z":-0.81},{"x":-0.55,"y":1.3,"z":-0.85},{"x":-0.55,"y":1.1,"z":-0.85},{"x":-0.55,"y":0.9,"z":-0.76},{"x":-0.55,"y":0.7,"z":-0.64},{"x":-0.55,"y":0.5,"z":-0.57},{"x":-0.55,"y":0.3,"z":-0.56},{"x":-0.55,"y":0.1,"z":-0.55},{"x":-0.55,"y":-0.1,"z":-0.56},{"x":-0.55,"y":-0.3,"z":-0.58},{"x":-0.55,"y":-0.5,"z":-0.6},{"x":-0.55,"y":-0.7,"z":-0.57},{"x":-0.55,"y":-0.9,"z":-0.52},{"x":-0.55,"y":-1.1,"z":-0.42},{"x":-0.55,"y":-1.3,"z":-0.37},{"x":-0.55,"y":-1.5,"z":-0.32},{"x":-0.55,"y":-1.7,"z":-0.28},{"x":-0.55,"y":-1.9,"z":-0.23},{"x":-0.55,"y":-2.1,"z":-0.19},{"x":-0.55,"y":-2.3,"z":-0.15},{"x":-0.55,"y":-2.5,"z":-0.12},{"x":-0.55,"y":-2.7,"z":-0.09},{"x":-0.55,"y":-2.9,"z":-0.07},{"x":-0.55,"y":-3.1,"z":-0.05},
{"x":-0.45,"y":3.1,"z":0},{"x":-0.45,"y":2.9,"z":-0.01},{"x":-0.45,"y":2.7,"z":-0.02},{"x":-0.45,"y":2.5,"z":-0.06},{"x":-0.45,"y":2.3,"z":-0.14},{"x":-0.45,"y":2.1,"z":-0.27},{"x":-0.45,"y":1.9,"z":-0.4},{"x":-0.45,"y":1.7,"z":-0.56},{"x":-0.45,"y":1.5,"z":-0.71},{"x":-0.45,"y":1.3,"z":-0.75},{"x":-0.45,"y":1.1,"z":-0.7},{"x":-0.45,"y":0.9,"z":-0.57},{"x":-0.45,"y":0.7,"z":-0.42},{"x":-0.45,"y":0.5,"z":-0.3},{"x":-0.45,"y":0.3,"z":-0.22},{"x":-0.45,"y":0.1,"z":-0.22},{"x":-0.45,"y":-0.1,"z":-0.26},{"x":-0.45,"y":-0.3,"z":-0.3},{"x":-0.45,"y":-0.5,"z":-0.33},{"x":-0.45,"y":-0.7,"z":-0.32},{"x":-0.45,"y":-0.9,"z":-0.24},{"x":-0.45,"y":-1.1,"z":-0.18},{"x":-0.45,"y":-1.3,"z":-0.15},{"x":-0.45,"y":-1.5,"z":-0.12},{"x":-0.45,"y":-1.7,"z":-0.1},{"x":-0.45,"y":-1.9,"z":-0.08},{"x":-0.45,"y":-2.1,"z":-0.07},{"x":-0.45,"y":-2.3,"z":-0.05},{"x":-0.45,"y":-2.5,"z":-0.04},{"x":-0.45,"y":-2.7,"z":-0.03},{"x":-0.45,"y":-2.9,"z":-0.02},{"x":-0.45,"y":-3.1,"z":-0.02},
{"x":-0.35,"y":3.1,"z":0.03},{"x":-0.35,"y":2.9,"z":0.04},{"x":-0.35,"y":2.7,"z":0.05},{"x":-0.35,"y":2.5,"z":0},{"x":-0.35,"y":2.3,"z":-0.04},{"x":-0.35,"y":2.1,"z":-0.16},{"x":-0.35,"y":1.9,"z":-0.33},{"x":-0.35,"y":1.7,"z":-0.5},{"x":-0.35,"y":1.5,"z":-0.64},{"x":-0.35,"y":1.3,"z":-0.64},{"x":-0.35,"y":1.1,"z":-0.56},{"x":-0.35,"y":0.9,"z":-0.36},{"x":-0.35,"y":0.7,"z":-0.12},{"x":-0.35,"y":0.5,"z":0.05},{"x":-0.35,"y":0.3,"z":0.25},{"x":-0.35,"y":0.1,"z":0.2},{"x":-0.35,"y":-0.1,"z":0.12},{"x":-0.35,"y":-0.3,"z":0.05},{"x":-0.35,"y":-0.5,"z":0},{"x":-0.35,"y":-0.7,"z":-0.03},{"x":-0.35,"y":-0.9,"z":-0.04},{"x":-0.35,"y":-1.1,"z":0.05},{"x":-0.35,"y":-1.3,"z":0.09},{"x":-0.35,"y":-1.5,"z":0.1},{"x":-0.35,"y":-1.7,"z":0.1},{"x":-0.35,"y":-1.9,"z":0.1},{"x":-0.35,"y":-2.1,"z":0.08},{"x":-0.35,"y":-2.3,"z":0.08},{"x":-0.35,"y":-2.5,"z":0.07},{"x":-0.35,"y":-2.7,"z":0.06},{"x":-0.35,"y":-2.9,"z":0.04},{"x":-0.35,"y":-3.1,"z":0.03},
{"x":-0.25,"y":3.1,"z":0.05},{"x":-0.25,"y":2.9,"z":0.09},{"x":-0.25,"y":2.7,"z":0.11},{"x":-0.25,"y":2.5,"z":0.1},{"x":-0.25,"y":2.3,"z":0.01},{"x":-0.25,"y":2.1,"z":-0.07},{"x":-0.25,"y":1.9,"z":-0.25},{"x":-0.25,"y":1.7,"z":-0.45},{"x":-0.25,"y":1.5,"z":-0.61},{"x":-0.25,"y":1.3,"z":-0.6},{"x":-0.25,"y":1.1,"z":-0.42},{"x":-0.25,"y":0.9,"z":-0.1},{"x":-0.25,"y":0.7,"z":0.22},{"x":-0.25,"y":0.5,"z":0.45},{"x":-0.25,"y":0.3,"z":0.7},{"x":-0.25,"y":0.1,"z":0.62},{"x":-0.25,"y":-0.1,"z":0.5},{"x":-0.25,"y":-0.3,"z":0.42},{"x":-0.25,"y":-0.5,"z":0.33},{"x":-0.25,"y":-0.7,"z":0.27},{"x":-0.25,"y":-0.9,"z":0.22},{"x":-0.25,"y":-1.1,"z":0.3},{"x":-0.25,"y":-1.3,"z":0.31},{"x":-0.25,"y":-1.5,"z":0.28},{"x":-0.25,"y":-1.7,"z":0.25},{"x":-0.25,"y":-1.9,"z":0.22},{"x":-0.25,"y":-2.1,"z":0.19},{"x":-0.25,"y":-2.3,"z":0.17},{"x":-0.25,"y":-2.5,"z":0.15},{"x":-0.25,"y":-2.7,"z":0.13},{"x":-0.25,"y":-2.9,"z":0.1},{"x":-0.25,"y":-3.1,"z":0.06},
{"x":-0.15,"y":3.1,"z":0.07},{"x":-0.15,"y":2.9,"z":0.13},{"x":-0.15,"y":2.7,"z":0.16},{"x":-0.15,"y":2.5,"z":0.15},{"x":-0.15,"y":2.3,"z":0.1},{"x":-0.15,"y":2.1,"z":-0.02},{"x":-0.15,"y":1.9,"z":-0.18},{"x":-0.15,"y":1.7,"z":-0.4},{"x":-0.15,"y":1.5,"z":-0.6},{"x":-0.15,"y":1.3,"z":-0.52},{"x":-0.15,"y":1.1,"z":-0.25},{"x":-0.15,"y":0.9,"z":0.12},{"x":-0.15,"y":0.7,"z":0.55},{"x":-0.15,"y":0.5,"z":0.9},{"x":-0.15,"y":0.3,"z":1.07},{"x":-0.15,"y":0.1,"z":1.0},{"x":-0.15,"y":-0.1,"z":0.85},{"x":-0.15,"y":-0.3,"z":0.74},{"x":-0.15,"y":-0.5,"z":0.62},{"x":-0.15,"y":-0.7,"z":0.53},{"x":-0.15,"y":-0.9,"z":0.46},{"x":-0.15,"y":-1.1,"z":0.48},{"x":-0.15,"y":-1.3,"z":0.44},{"x":-0.15,"y":-1.5,"z":0.39},{"x":-0.15,"y":-1.7,"z":0.36},{"x":-0.15,"y":-1.9,"z":0.31},{"x":-0.15,"y":-2.1,"z":0.27},{"x":-0.15,"y":-2.3,"z":0.24},{"x":-0.15,"y":-2.5,"z":0.21},{"x":-0.15,"y":-2.7,"z":0.18},{"x":-0.15,"y":-2.9,"z":0.14},{"x":-0.15,"y":-3.1,"z":0.09},
{"x":-0.05,"y":3.1,"z":0.08},{"x":-0.05,"y":2.9,"z":0.14},{"x":-0.05,"y":2.7,"z":0.17},{"x":-0.05,"y":2.5,"z":0.16},{"x":-0.05,"y":2.3,"z":0.12},{"x":-0.05,"y":2.1,"z":0.005},{"x":-0.05,"y":1.9,"z":-0.15},{"x":-0.05,"y":1.7,"z":-0.37},{"x":-0.05,"y":1.5,"z":-0.59},{"x":-0.05,"y":1.3,"z":-0.4},{"x":-0.05,"y":1.1,"z":-0.07},{"x":-0.05,"y":0.9,"z":0.28},{"x":-0.05,"y":0.7,"z":0.75},{"x":-0.05,"y":0.5,"z":1.02},{"x":-0.05,"y":0.3,"z":1.16},{"x":-0.05,"y":0.1,"z":1.12},{"x":-0.05,"y":-0.1,"z":1.03},{"x":-0.05,"y":-0.3,"z":0.92},{"x":-0.05,"y":-0.5,"z":0.79},{"x":-0.05,"y":-0.7,"z":0.68},{"x":-0.05,"y":-0.9,"z":0.61},{"x":-0.05,"y":-1.1,"z":0.55},{"x":-0.05,"y":-1.3,"z":0.5},{"x":-0.05,"y":-1.5,"z":0.45},{"x":-0.05,"y":-1.7,"z":0.41},{"x":-0.05,"y":-1.9,"z":0.36},{"x":-0.05,"y":-2.1,"z":0.31},{"x":-0.05,"y":-2.3,"z":0.28},{"x":-0.05,"y":-2.5,"z":0.24},{"x":-0.05,"y":-2.7,"z":0.21},{"x":-0.05,"y":-2.9,"z":0.16},{"x":-0.05,"y":-3.1,"z":0.1},
{"x":0.05,"y":3.1,"z":0.08},{"x":0.05,"y":2.9,"z":0.14},{"x":0.05,"y":2.7,"z":0.16},{"x":0.05,"y":2.5,"z":0.15},{"x":0.05,"y":2.3,"z":0.1},{"x":0.05,"y":2.1,"z":-0.01},{"x":0.05,"y":1.9,"z":-0.2},{"x":0.05,"y":1.7,"z":-0.42},{"x":0.05,"y":1.5,"z":-0.6},{"x":0.05,"y":1.3,"z":-0.5},{"x":0.05,"y":1.1,"z":-0.22},{"x":0.05,"y":0.9,"z":0.12},{"x":0.05,"y":0.7,"z":0.6},{"x":0.05,"y":0.5,"z":0.95},{"x":0.05,"y":0.3,"z":1.1},{"x":0.05,"y":0.1,"z":1.08},{"x":0.05,"y":-0.1,"z":0.98},{"x":0.05,"y":-0.3,"z":0.86},{"x":0.05,"y":-0.5,"z":0.72},{"x":0.05,"y":-0.7,"z":0.62},{"x":0.05,"y":-0.9,"z":0.56},{"x":0.05,"y":-1.1,"z":0.53},{"x":0.05,"y":-1.3,"z":0.48},{"x":0.05,"y":-1.5,"z":0.43},{"x":0.05,"y":-1.7,"z":0.39},{"x":0.05,"y":-1.9,"z":0.35},{"x":0.05,"y":-2.1,"z":0.3},{"x":0.05,"y":-2.3,"z":0.27},{"x":0.05,"y":-2.5,"z":0.23},{"x":0.05,"y":-2.7,"z":0.2},{"x":0.05,"y":-2.9,"z":0.15},{"x":0.05,"y":-3.1,"z":0.1},
{"x":0.15,"y":3.1,"z":0.07},{"x":0.15,"y":2.9,"z":0.12},{"x":0.15,"y":2.7,"z":0.14},{"x":0.15,"y":2.5,"z":0.12},{"x":0.15,"y":2.3,"z":0.05},{"x":0.15,"y":2.1,"z":-0.08},{"x":0.15,"y":1.9,"z":-0.3},{"x":0.15,"y":1.7,"z":-0.5},{"x":0.15,"y":1.5,"z":-0.64},{"x":0.15,"y":1.3,"z":-0.62},{"x":0.15,"y":1.1,"z":-0.42},{"x":0.15,"y":0.9,"z":-0.1},{"x":0.15,"y":0.7,"z":0.35},{"x":0.15,"y":0.5,"z":0.78},{"x":0.15,"y":0.3,"z":0.97},{"x":0.15,"y":0.1,"z":0.95},{"x":0.15,"y":-0.1,"z":0.85},{"x":0.15,"y":-0.3,"z":0.72},{"x":0.15,"y":-0.5,"z":0.58},{"x":0.15,"y":-0.7,"z":0.5},{"x":0.15,"y":-0.9,"z":0.46},{"x":0.15,"y":-1.1,"z":0.43},{"x":0.15,"y":-1.3,"z":0.39},{"x":0.15,"y":-1.5,"z":0.35},{"x":0.15,"y":-1.7,"z":0.32},{"x":0.15,"y":-1.9,"z":0.28},{"x":0.15,"y":-2.1,"z":0.24},{"x":0.15,"y":-2.3,"z":0.22},{"x":0.15,"y":-2.5,"z":0.19},{"x":0.15,"y":-2.7,"z":0.16},{"x":0.15,"y":-2.9,"z":0.13},{"x":0.15,"y":-3.1,"z":0.08},
{"x":0.25,"y":3.1,"z":0.05},{"x":0.25,"y":2.9,"z":0.08},{"x":0.25,"y":2.7,"z":0.1},{"x":0.25,"y":2.5,"z":0.09},{"x":0.25,"y":2.3,"z":0.02},{"x":0.25,"y":2.1,"z":-0.18},{"x":0.25,"y":1.9,"z":-0.4},{"x":0.25,"y":1.7,"z":-0.57},{"x":0.25,"y":1.5,"z":-0.69},{"x":0.25,"y":1.3,"z":-0.69},{"x":0.25,"y":1.1,"z":-0.55},{"x":0.25,"y":0.9,"z":-0.3},{"x":0.25,"y":0.7,"z":0.08},{"x":0.25,"y":0.5,"z":0.52},{"x":0.25,"y":0.3,"z":0.8},{"x":0.25,"y":0.1,"z":0.78},{"x":0.25,"y":-0.1,"z":0.67},{"x":0.25,"y":-0.3,"z":0.53},{"x":0.25,"y":-0.5,"z":0.4},{"x":0.25,"y":-0.7,"z":0.33},{"x":0.25,"y":-0.9,"z":0.29},{"x":0.25,"y":-1.1,"z":0.27},{"x":0.25,"y":-1.3,"z":0.24},{"x":0.25,"y":-1.5,"z":0.22},{"x":0.25,"y":-1.7,"z":0.2},{"x":0.25,"y":-1.9,"z":0.18},{"x":0.25,"y":-2.1,"z":0.15},{"x":0.25,"y":-2.3,"z":0.14},{"x":0.25,"y":-2.5,"z":0.12},{"x":0.25,"y":-2.7,"z":0.1},{"x":0.25,"y":-2.9,"z":0.08},{"x":0.25,"y":-3.1,"z":0.05},
{"x":0.35,"y":3.1,"z":0.04},{"x":0.35,"y":2.9,"z":0.04},{"x":0.35,"y":2.7,"z":0.04},{"x":0.35,"y":2.5,"z":0.03},{"x":0.35,"y":2.3,"z":-0.03},{"x":0.35,"y":2.1,"z":-0.25},{"x":0.35,"y":1.9,"z":-0.45},{"x":0.35,"y":1.7,"z":-0.6},{"x":0.35,"y":1.5,"z":-0.73},{"x":0.35,"y":1.3,"z":-0.73},{"x":0.35,"y":1.1,"z":-0.62},{"x":0.35,"y":0.9,"z":-0.42},{"x":0.35,"y":0.7,"z":-0.13},{"x":0.35,"y":0.5,"z":0.25},{"x":0.35,"y":0.3,"z":0.62},{"x":0.35,"y":0.1,"z":0.58},{"x":0.35,"y":-0.1,"z":0.45},{"x":0.35,"y":-0.3,"z":0.3},{"x":0.35,"y":-0.5,"z":0.17},{"x":0.35,"y":-0.7,"z":0.1},{"x":0.35,"y":-0.9,"z":0.07},{"x":0.35,"y":-1.1,"z":0.06},{"x":0.35,"y":-1.3,"z":0.06},{"x":0.35,"y":-1.5,"z":0.05},{"x":0.35,"y":-1.7,"z":0.05},{"x":0.35,"y":-1.9,"z":0.04},{"x":0.35,"y":-2.1,"z":0.04},{"x":0.35,"y":-2.3,"z":0.03},{"x":0.35,"y":-2.5,"z":0.03},{"x":0.35,"y":-2.7,"z":0.02},{"x":0.35,"y":-2.9,"z":0.02},{"x":0.35,"y":-3.1,"z":0.01},
{"x":0.45,"y":3.1,"z":0.03},{"x":0.45,"y":2.9,"z":0.03},{"x":0.45,"y":2.7,"z":0.03},{"x":0.45,"y":2.5,"z":0.02},{"x":0.45,"y":2.3,"z":-0.1},{"x":0.45,"y":2.1,"z":-0.28},{"x":0.45,"y":1.9,"z":-0.46},{"x":0.45,"y":1.7,"z":-0.61},{"x":0.45,"y":1.5,"z":-0.745},{"x":0.45,"y":1.3,"z":-0.745},{"x":0.45,"y":1.1,"z":-0.63},{"x":0.45,"y":0.9,"z":-0.45},{"x":0.45,"y":0.7,"z":-0.24},{"x":0.45,"y":0.5,"z":0},{"x":0.45,"y":0.3,"z":0.42},{"x":0.45,"y":0.1,"z":0.38},{"x":0.45,"y":-0.1,"z":0.22},{"x":0.45,"y":-0.3,"z":0.08},{"x":0.45,"y":-0.5,"z":0},{"x":0.45,"y":-0.7,"z":-0.04},{"x":0.45,"y":-0.9,"z":-0.06},{"x":0.45,"y":-1.1,"z":-0.07},{"x":0.45,"y":-1.3,"z":-0.07},{"x":0.45,"y":-1.5,"z":-0.07},{"x":0.45,"y":-1.7,"z":-0.06},{"x":0.45,"y":-1.9,"z":-0.05},{"x":0.45,"y":-2.1,"z":-0.04},{"x":0.45,"y":-2.3,"z":-0.04},{"x":0.45,"y":-2.5,"z":-0.03},{"x":0.45,"y":-2.7,"z":-0.03},{"x":0.45,"y":-2.9,"z":-0.03},{"x":0.45,"y":-3.1,"z":-0.02},
{"x":0.55,"y":3.1,"z":0.02},{"x":0.55,"y":2.9,"z":0.02},{"x":0.55,"y":2.7,"z":0.01},{"x":0.55,"y":2.5,"z":-0.01},{"x":0.55,"y":2.3,"z":-0.12},{"x":0.55,"y":2.1,"z":-0.27},{"x":0.55,"y":1.9,"z":-0.44},{"x":0.55,"y":1.7,"z":-0.58},{"x":0.55,"y":1.5,"z":-0.7},{"x":0.55,"y":1.3,"z":-0.7},{"x":0.55,"y":1.1,"z":-0.58},{"x":0.55,"y":0.9,"z":-0.4},{"x":0.55,"y":0.7,"z":-0.2},{"x":0.55,"y":0.5,"z":-0.04},{"x":0.55,"y":0.3,"z":0.28},{"x":0.55,"y":0.1,"z":0.22},{"x":0.55,"y":-0.1,"z":0.08},{"x":0.55,"y":-0.3,"z":-0.02},{"x":0.55,"y":-0.5,"z":-0.09},{"x":0.55,"y":-0.7,"z":-0.12},{"x":0.55,"y":-0.9,"z":-0.125},{"x":0.55,"y":-1.1,"z":-0.125},{"x":0.55,"y":-1.3,"z":-0.12},{"x":0.55,"y":-1.5,"z":-0.112},{"x":0.55,"y":-1.7,"z":-0.095},{"x":0.55,"y":-1.9,"z":-0.08},{"x":0.55,"y":-2.1,"z":-0.07},{"x":0.55,"y":-2.3,"z":-0.06},{"x":0.55,"y":-2.5,"z":-0.05},{"x":0.55,"y":-2.7,"z":-0.047},{"x":0.55,"y":-2.9,"z":-0.043},{"x":0.55,"y":-3.1,"z":-0.04},
{"x":0.65,"y":3.1,"z":-0.01},{"x":0.65,"y":2.9,"z":-0.01},{"x":0.65,"y":2.7,"z":-0.02},{"x":0.65,"y":2.5,"z":-0.04},{"x":0.65,"y":2.3,"z":-0.12},{"x":0.65,"y":2.1,"z":-0.23},{"x":0.65,"y":1.9,"z":-0.39},{"x":0.65,"y":1.7,"z":-0.52},{"x":0.65,"y":1.5,"z":-0.64},{"x":0.65,"y":1.3,"z":-0.64},{"x":0.65,"y":1.1,"z":-0.5},{"x":0.65,"y":0.9,"z":-0.33},{"x":0.65,"y":0.7,"z":-0.16},{"x":0.65,"y":0.5,"z":-0.07},{"x":0.65,"y":0.3,"z":0.1},{"x":0.65,"y":0.1,"z":0.06},{"x":0.65,"y":-0.1,"z":-0.03},{"x":0.65,"y":-0.3,"z":-0.09},{"x":0.65,"y":-0.5,"z":-0.125},{"x":0.65,"y":-0.7,"z":-0.136},{"x":0.65,"y":-0.9,"z":-0.14},{"x":0.65,"y":-1.1,"z":-0.14},{"x":0.65,"y":-1.3,"z":-0.136},{"x":0.65,"y":-1.5,"z":-0.126},{"x":0.65,"y":-1.7,"z":-0.107},{"x":0.65,"y":-1.9,"z":-0.087},{"x":0.65,"y":-2.1,"z":-0.078},{"x":0.65,"y":-2.3,"z":-0.068},{"x":0.65,"y":-2.5,"z":-0.058},{"x":0.65,"y":-2.7,"z":-0.053},{"x":0.65,"y":-2.9,"z":-0.049},{"x":0.65,"y":-3.1,"z":-0.044},
{"x":0.75,"y":3.1,"z":-0.02},{"x":0.75,"y":2.9,"z":-0.03},{"x":0.75,"y":2.7,"z":-0.04},{"x":0.75,"y":2.5,"z":-0.05},{"x":0.75,"y":2.3,"z":-0.11},{"x":0.75,"y":2.1,"z":-0.19},{"x":0.75,"y":1.9,"z":-0.33},{"x":0.75,"y":1.7,"z":-0.45},{"x":0.75,"y":1.5,"z":-0.56},{"x":0.75,"y":1.3,"z":-0.56},{"x":0.75,"y":1.1,"z":-0.42},{"x":0.75,"y":0.9,"z":-0.26},{"x":0.75,"y":0.7,"z":-0.13},{"x":0.75,"y":0.5,"z":-0.06},{"x":0.75,"y":0.3,"z":0.03},{"x":0.75,"y":0.1,"z":0},{"x":0.75,"y":-0.1,"z":-0.05},{"x":0.75,"y":-0.3,"z":-0.11},{"x":0.75,"y":-0.5,"z":-0.13},{"x":0.75,"y":-0.7,"z":-0.14},{"x":0.75,"y":-0.9,"z":-0.145},{"x":0.75,"y":-1.1,"z":-0.145},{"x":0.75,"y":-1.3,"z":-0.14},{"x":0.75,"y":-1.5,"z":-0.13},{"x":0.75,"y":-1.7,"z":-0.11},{"x":0.75,"y":-1.9,"z":-0.09},{"x":0.75,"y":-2.1,"z":-0.08},{"x":0.75,"y":-2.3,"z":-0.07},{"x":0.75,"y":-2.5,"z":-0.06},{"x":0.75,"y":-2.7,"z":-0.055},{"x":0.75,"y":-2.9,"z":-0.05},{"x":0.75,"y":-3.1,"z":-0.045},
{"x":0.85,"y":3.1,"z":-0.02},{"x":0.85,"y":2.9,"z":-0.03},{"x":0.85,"y":2.7,"z":-0.03},{"x":0.85,"y":2.5,"z":-0.04},{"x":0.85,"y":2.3,"z":-0.09},{"x":0.85,"y":2.1,"z":-0.15},{"x":0.85,"y":1.9,"z":-0.26},{"x":0.85,"y":1.7,"z":-0.37},{"x":0.85,"y":1.5,"z":-0.46},{"x":0.85,"y":1.3,"z":-0.46},{"x":0.85,"y":1.1,"z":-0.34},{"x":0.85,"y":0.9,"z":-0.2},{"x":0.85,"y":0.7,"z":-0.1},{"x":0.85,"y":0.5,"z":-0.04},{"x":0.85,"y":0.3,"z":0.01},{"x":0.85,"y":0.1,"z":-0.01},{"x":0.85,"y":-0.1,"z":-0.05},{"x":0.85,"y":-0.3,"z":-0.1},{"x":0.85,"y":-0.5,"z":-0.127},{"x":0.85,"y":-0.7,"z":-0.137},{"x":0.85,"y":-0.9,"z":-0.142},{"x":0.85,"y":-1.1,"z":-0.142},{"x":0.85,"y":-1.3,"z":-0.137},{"x":0.85,"y":-1.5,"z":-0.127},{"x":0.85,"y":-1.7,"z":-0.108},{"x":0.85,"y":-1.9,"z":-0.088},{"x":0.85,"y":-2.1,"z":-0.078},{"x":0.85,"y":-2.3,"z":-0.069},{"x":0.85,"y":-2.5,"z":-0.059},{"x":0.85,"y":-2.7,"z":-0.054},{"x":0.85,"y":-2.9,"z":-0.049},{"x":0.85,"y":-3.1,"z":-0.044},
{"x":0.95,"y":3.1,"z":-0.01},{"x":0.95,"y":2.9,"z":-0.02},{"x":0.95,"y":2.7,"z":-0.02},{"x":0.95,"y":2.5,"z":-0.03},{"x":0.95,"y":2.3,"z":-0.07},{"x":0.95,"y":2.1,"z":-0.12},{"x":0.95,"y":1.9,"z":-0.19},{"x":0.95,"y":1.7,"z":-0.29},{"x":0.95,"y":1.5,"z":-0.36},{"x":0.95,"y":1.3,"z":-0.36},{"x":0.95,"y":1.1,"z":-0.26},{"x":0.95,"y":0.9,"z":-0.14},{"x":0.95,"y":0.7,"z":-0.06},{"x":0.95,"y":0.5,"z":-0.02},{"x":0.95,"y":0.3,"z":0.01},{"x":0.95,"y":0.1,"z":0},{"x":0.95,"y":-0.1,"z":-0.02},{"x":0.95,"y":-0.3,"z":-0.06},{"x":0.95,"y":-0.5,"z":-0.11},{"x":0.95,"y":-0.7,"z":-0.12},{"x":0.95,"y":-0.9,"z":-0.123},{"x":0.95,"y":-1.1,"z":-0.123},{"x":0.95,"y":-1.3,"z":-0.119},{"x":0.95,"y":-1.5,"z":-0.11},{"x":0.95,"y":-1.7,"z":-0.094},{"x":0.95,"y":-1.9,"z":-0.077},{"x":0.95,"y":-2.1,"z":-0.068},{"x":0.95,"y":-2.3,"z":-0.06},{"x":0.95,"y":-2.5,"z":-0.051},{"x":0.95,"y":-2.7,"z":-0.047},{"x":0.95,"y":-2.9,"z":-0.043},{"x":0.95,"y":-3.1,"z":-0.038},
{"x":1.05,"y":3.1,"z":0.01},{"x":1.05,"y":2.9,"z":0},{"x":1.05,"y":2.7,"z":-0.01},{"x":1.05,"y":2.5,"z":-0.02},{"x":1.05,"y":2.3,"z":-0.05},{"x":1.05,"y":2.1,"z":-0.08},{"x":1.05,"y":1.9,"z":-0.13},{"x":1.05,"y":1.7,"z":-0.22},{"x":1.05,"y":1.5,"z":-0.27},{"x":1.05,"y":1.3,"z":-0.27},{"x":1.05,"y":1.1,"z":-0.18},{"x":1.05,"y":0.9,"z":-0.08},{"x":1.05,"y":0.7,"z":-0.02},{"x":1.05,"y":0.5,"z":0},{"x":1.05,"y":0.3,"z":0.02},{"x":1.05,"y":0.1,"z":0.01},{"x":1.05,"y":-0.1,"z":0},{"x":1.05,"y":-0.3,"z":-0.02},{"x":1.05,"y":-0.5,"z":-0.05},{"x":1.05,"y":-0.7,"z":-0.07},{"x":1.05,"y":-0.9,"z":-0.07},{"x":1.05,"y":-1.1,"z":-0.07},{"x":1.05,"y":-1.3,"z":-0.07},{"x":1.05,"y":-1.5,"z":-0.065},{"x":1.05,"y":-1.7,"z":-0.055},{"x":1.05,"y":-1.9,"z":-0.045},{"x":1.05,"y":-2.1,"z":-0.04},{"x":1.05,"y":-2.3,"z":-0.035},{"x":1.05,"y":-2.5,"z":-0.03},{"x":1.05,"y":-2.7,"z":-0.028},{"x":1.05,"y":-2.9,"z":-0.025},{"x":1.05,"y":-3.1,"z":-0.022},
{"x":1.15,"y":3.1,"z":0.01},{"x":1.15,"y":2.9,"z":0.01},{"x":1.15,"y":2.7,"z":0},{"x":1.15,"y":2.5,"z":-0.01},{"x":1.15,"y":2.3,"z":-0.03},{"x":1.15,"y":2.1,"z":-0.05},{"x":1.15,"y":1.9,"z":-0.08},{"x":1.15,"y":1.7,"z":-0.15},{"x":1.15,"y":1.5,"z":-0.19},{"x":1.15,"y":1.3,"z":-0.19},{"x":1.15,"y":1.1,"z":-0.1},{"x":1.15,"y":0.9,"z":-0.04},{"x":1.15,"y":0.7,"z":0},{"x":1.15,"y":0.5,"z":0.01},{"x":1.15,"y":0.3,"z":0.02},{"x":1.15,"y":0.1,"z":0.02},{"x":1.15,"y":-0.1,"z":0.02},{"x":1.15,"y":-0.3,"z":0.01},{"x":1.15,"y":-0.5,"z":0.01},{"x":1.15,"y":-0.7,"z":-0.005},{"x":1.15,"y":-0.9,"z":-0.005},{"x":1.15,"y":-1.1,"z":-0.005},{"x":1.15,"y":-1.3,"z":-0.005},{"x":1.15,"y":-1.5,"z":-0.005},{"x":1.15,"y":-1.7,"z":-0.005},{"x":1.15,"y":-1.9,"z":-0.005},{"x":1.15,"y":-2.1,"z":-0.005},{"x":1.15,"y":-2.3,"z":-0.005},{"x":1.15,"y":-2.5,"z":0},{"x":1.15,"y":-2.7,"z":0},{"x":1.15,"y":-2.9,"z":0},{"x":1.15,"y":-3.1,"z":0},
{"x":1.25,"y":3.1,"z":0.02},{"x":1.25,"y":2.9,"z":0.01},{"x":1.25,"y":2.7,"z":0.01},{"x":1.25,"y":2.5,"z":0},{"x":1.25,"y":2.3,"z":-0.01},{"x":1.25,"y":2.1,"z":-0.01},{"x":1.25,"y":1.9,"z":-0.04},{"x":1.25,"y":1.7,"z":-0.1},{"x":1.25,"y":1.5,"z":-0.12},{"x":1.25,"y":1.3,"z":-0.11},{"x":1.25,"y":1.1,"z":-0.04},{"x":1.25,"y":0.9,"z":0},{"x":1.25,"y":0.7,"z":0.02},{"x":1.25,"y":0.5,"z":0.02},{"x":1.25,"y":0.3,"z":0.02},{"x":1.25,"y":0.1,"z":0.02},{"x":1.25,"y":-0.1,"z":0.02},{"x":1.25,"y":-0.3,"z":0.02},{"x":1.25,"y":-0.5,"z":0.02},{"x":1.25,"y":-0.7,"z":0.02},{"x":1.25,"y":-0.9,"z":0.02},{"x":1.25,"y":-1.1,"z":0.02},{"x":1.25,"y":-1.3,"z":0.02},{"x":1.25,"y":-1.5,"z":0.02},{"x":1.25,"y":-1.7,"z":0.02},{"x":1.25,"y":-1.9,"z":0.02},{"x":1.25,"y":-2.1,"z":0.02},{"x":1.25,"y":-2.3,"z":0.02},{"x":1.25,"y":-2.5,"z":0.02},{"x":1.25,"y":-2.7,"z":0.02},{"x":1.25,"y":-2.9,"z":0.02},{"x":1.25,"y":-3.1,"z":0.02},
{"x":1.35,"y":3.1,"z":0.02},{"x":1.35,"y":2.9,"z":0.02},{"x":1.35,"y":2.7,"z":0.01},{"x":1.35,"y":2.5,"z":0.01},{"x":1.35,"y":2.3,"z":0},{"x":1.35,"y":2.1,"z":0.01},{"x":1.35,"y":1.9,"z":-0.01},{"x":1.35,"y":1.7,"z":-0.05},{"x":1.35,"y":1.5,"z":-0.06},{"x":1.35,"y":1.3,"z":-0.04},{"x":1.35,"y":1.1,"z":0},{"x":1.35,"y":0.9,"z":0.02},{"x":1.35,"y":0.7,"z":0.02},{"x":1.35,"y":0.5,"z":0.02},{"x":1.35,"y":0.3,"z":0.03},{"x":1.35,"y":0.1,"z":0.03},{"x":1.35,"y":-0.1,"z":0.03},{"x":1.35,"y":-0.3,"z":0.03},{"x":1.35,"y":-0.5,"z":0.03},{"x":1.35,"y":-0.7,"z":0.03},{"x":1.35,"y":-0.9,"z":0.03},{"x":1.35,"y":-1.1,"z":0.03},{"x":1.35,"y":-1.3,"z":0.03},{"x":1.35,"y":-1.5,"z":0.03},{"x":1.35,"y":-1.7,"z":0.03},{"x":1.35,"y":-1.9,"z":0.03},{"x":1.35,"y":-2.1,"z":0.03},{"x":1.35,"y":-2.3,"z":0.03},{"x":1.35,"y":-2.5,"z":0.03},{"x":1.35,"y":-2.7,"z":0.03},{"x":1.35,"y":-2.9,"z":0.03},{"x":1.35,"y":-3.1,"z":0.03}
]},
"mark":{"type":"rect","clip":true,"binSpacing":0,"strokeWidth":0.6},
"encoding":{
"x":{"field":"x","type":"quantitative","bin":{"step":0.1,"anchor":-3.2,"extent":[-3.2,1.4]},"scale":{"domain":[-3.14159,3.14159],"nice":false,"zero":false},"axis":{"values":[-2,0,2],"format":"d","labelPadding":6,"labelFlush":false}},
"y":{"field":"y","type":"quantitative","bin":{"step":0.2,"anchor":-3.2,"extent":[-3.2,3.2]},"scale":{"domain":[-3.14159,3.14159],"nice":false,"zero":false},"axis":{"values":[-2,0,2],"format":"d","labelPadding":3,"labelFlush":false}},
"color":{"field":"z","type":"quantitative","scale":{"type":"quantize","domain":[-0.967,1.173],"nice":false,"range":["#440154","#471466","#482676","#453681","#404788","#39558c","#33638d","#2d708e","#287d8e","#238a8d","#1f978a","#20a386","#2ab07f","#3dbc74","#57c666","#74cf55","#96d83f","#badf28","#dde319","#fde725"]},"legend":null},
"stroke":{"field":"z","type":"quantitative","scale":{"type":"quantize","domain":[-0.967,1.173],"nice":false,"range":["#440154","#471466","#482676","#453681","#404788","#39558c","#33638d","#2d708e","#287d8e","#238a8d","#1f978a","#20a386","#2ab07f","#3dbc74","#57c666","#74cf55","#96d83f","#badf28","#dde319","#fde725"]},"legend":null}
}},
{"data":{"values":[
{"x":1.5,"y":3.1,"z":0.03},{"x":1.5,"y":2.9,"z":0.03},{"x":1.5,"y":2.7,"z":0.03},{"x":1.5,"y":2.5,"z":0.03},{"x":1.5,"y":2.3,"z":0.03},{"x":1.5,"y":2.1,"z":0.03},{"x":1.5,"y":1.9,"z":0.03},{"x":1.5,"y":1.7,"z":0.02},{"x":1.5,"y":1.5,"z":0.01},{"x":1.5,"y":1.3,"z":0.02},{"x":1.5,"y":1.1,"z":0.03},{"x":1.5,"y":0.9,"z":0.03},{"x":1.5,"y":0.7,"z":0.03},{"x":1.5,"y":0.5,"z":0.03},{"x":1.5,"y":0.3,"z":0.03},{"x":1.5,"y":0.1,"z":0.03},{"x":1.5,"y":-0.1,"z":0.03},{"x":1.5,"y":-0.3,"z":0.03},{"x":1.5,"y":-0.5,"z":0.03},{"x":1.5,"y":-0.7,"z":0.03},{"x":1.5,"y":-0.9,"z":0.03},{"x":1.5,"y":-1.1,"z":0.03},{"x":1.5,"y":-1.3,"z":0.03},{"x":1.5,"y":-1.5,"z":0.03},{"x":1.5,"y":-1.7,"z":0.03},{"x":1.5,"y":-1.9,"z":0.03},{"x":1.5,"y":-2.1,"z":0.03},{"x":1.5,"y":-2.3,"z":0.03},{"x":1.5,"y":-2.5,"z":0.03},{"x":1.5,"y":-2.7,"z":0.03},{"x":1.5,"y":-2.9,"z":0.03},{"x":1.5,"y":-3.1,"z":0.03},
{"x":1.7,"y":3.1,"z":0.03},{"x":1.7,"y":2.9,"z":0.03},{"x":1.7,"y":2.7,"z":0.03},{"x":1.7,"y":2.5,"z":0.03},{"x":1.7,"y":2.3,"z":0.03},{"x":1.7,"y":2.1,"z":0.03},{"x":1.7,"y":1.9,"z":0.03},{"x":1.7,"y":1.7,"z":0.03},{"x":1.7,"y":1.5,"z":0.03},{"x":1.7,"y":1.3,"z":0.03},{"x":1.7,"y":1.1,"z":0.03},{"x":1.7,"y":0.9,"z":0.03},{"x":1.7,"y":0.7,"z":0.03},{"x":1.7,"y":0.5,"z":0.03},{"x":1.7,"y":0.3,"z":0.03},{"x":1.7,"y":0.1,"z":0.03},{"x":1.7,"y":-0.1,"z":0.03},{"x":1.7,"y":-0.3,"z":0.03},{"x":1.7,"y":-0.5,"z":0.03},{"x":1.7,"y":-0.7,"z":0.03},{"x":1.7,"y":-0.9,"z":0.03},{"x":1.7,"y":-1.1,"z":0.03},{"x":1.7,"y":-1.3,"z":0.03},{"x":1.7,"y":-1.5,"z":0.03},{"x":1.7,"y":-1.7,"z":0.03},{"x":1.7,"y":-1.9,"z":0.03},{"x":1.7,"y":-2.1,"z":0.03},{"x":1.7,"y":-2.3,"z":0.03},{"x":1.7,"y":-2.5,"z":0.03},{"x":1.7,"y":-2.7,"z":0.03},{"x":1.7,"y":-2.9,"z":0.03},{"x":1.7,"y":-3.1,"z":0.03},
{"x":1.9,"y":3.1,"z":0.03},{"x":1.9,"y":2.9,"z":0.03},{"x":1.9,"y":2.7,"z":0.03},{"x":1.9,"y":2.5,"z":0.03},{"x":1.9,"y":2.3,"z":0.03},{"x":1.9,"y":2.1,"z":0.03},{"x":1.9,"y":1.9,"z":0.03},{"x":1.9,"y":1.7,"z":0.03},{"x":1.9,"y":1.5,"z":0.03},{"x":1.9,"y":1.3,"z":0.03},{"x":1.9,"y":1.1,"z":0.03},{"x":1.9,"y":0.9,"z":0.03},{"x":1.9,"y":0.7,"z":0.03},{"x":1.9,"y":0.5,"z":0.03},{"x":1.9,"y":0.3,"z":0.03},{"x":1.9,"y":0.1,"z":0.03},{"x":1.9,"y":-0.1,"z":0.03},{"x":1.9,"y":-0.3,"z":0.03},{"x":1.9,"y":-0.5,"z":0.03},{"x":1.9,"y":-0.7,"z":0.03},{"x":1.9,"y":-0.9,"z":0.03},{"x":1.9,"y":-1.1,"z":0.03},{"x":1.9,"y":-1.3,"z":0.03},{"x":1.9,"y":-1.5,"z":0.03},{"x":1.9,"y":-1.7,"z":0.03},{"x":1.9,"y":-1.9,"z":0.03},{"x":1.9,"y":-2.1,"z":0.03},{"x":1.9,"y":-2.3,"z":0.03},{"x":1.9,"y":-2.5,"z":0.03},{"x":1.9,"y":-2.7,"z":0.03},{"x":1.9,"y":-2.9,"z":0.03},{"x":1.9,"y":-3.1,"z":0.03},
{"x":2.1,"y":3.1,"z":0.03},{"x":2.1,"y":2.9,"z":0.03},{"x":2.1,"y":2.7,"z":0.03},{"x":2.1,"y":2.5,"z":0.03},{"x":2.1,"y":2.3,"z":0.03},{"x":2.1,"y":2.1,"z":0.03},{"x":2.1,"y":1.9,"z":0.03},{"x":2.1,"y":1.7,"z":0.03},{"x":2.1,"y":1.5,"z":0.01},{"x":2.1,"y":1.3,"z":-0.02},{"x":2.1,"y":1.1,"z":-0.02},{"x":2.1,"y":0.9,"z":-0.02},{"x":2.1,"y":0.7,"z":-0.02},{"x":2.1,"y":0.5,"z":-0.02},{"x":2.1,"y":0.3,"z":-0.02},{"x":2.1,"y":0.1,"z":-0.02},{"x":2.1,"y":-0.1,"z":-0.02},{"x":2.1,"y":-0.3,"z":-0.02},{"x":2.1,"y":-0.5,"z":-0.02},{"x":2.1,"y":-0.7,"z":-0.02},{"x":2.1,"y":-0.9,"z":-0.02},{"x":2.1,"y":-1.1,"z":-0.02},{"x":2.1,"y":-1.3,"z":0.01},{"x":2.1,"y":-1.5,"z":0.03},{"x":2.1,"y":-1.7,"z":0.03},{"x":2.1,"y":-1.9,"z":0.03},{"x":2.1,"y":-2.1,"z":0.03},{"x":2.1,"y":-2.3,"z":0.03},{"x":2.1,"y":-2.5,"z":0.03},{"x":2.1,"y":-2.7,"z":0.03},{"x":2.1,"y":-2.9,"z":0.03},{"x":2.1,"y":-3.1,"z":0.03},
{"x":2.3,"y":3.1,"z":0.03},{"x":2.3,"y":2.9,"z":0.03},{"x":2.3,"y":2.7,"z":0.03},{"x":2.3,"y":2.5,"z":0.03},{"x":2.3,"y":2.3,"z":0.03},{"x":2.3,"y":2.1,"z":0.03},{"x":2.3,"y":1.9,"z":0.03},{"x":2.3,"y":1.7,"z":0.03},{"x":2.3,"y":1.5,"z":-0.01},{"x":2.3,"y":1.3,"z":-0.03},{"x":2.3,"y":1.1,"z":-0.03},{"x":2.3,"y":0.9,"z":-0.03},{"x":2.3,"y":0.7,"z":-0.03},{"x":2.3,"y":0.5,"z":-0.03},{"x":2.3,"y":0.3,"z":-0.03},{"x":2.3,"y":0.1,"z":-0.03},{"x":2.3,"y":-0.1,"z":-0.03},{"x":2.3,"y":-0.3,"z":-0.03},{"x":2.3,"y":-0.5,"z":-0.03},{"x":2.3,"y":-0.7,"z":-0.03},{"x":2.3,"y":-0.9,"z":-0.03},{"x":2.3,"y":-1.1,"z":-0.03},{"x":2.3,"y":-1.3,"z":-0.01},{"x":2.3,"y":-1.5,"z":0.03},{"x":2.3,"y":-1.7,"z":0.03},{"x":2.3,"y":-1.9,"z":0.03},{"x":2.3,"y":-2.1,"z":0.03},{"x":2.3,"y":-2.3,"z":0.03},{"x":2.3,"y":-2.5,"z":0.03},{"x":2.3,"y":-2.7,"z":0.03},{"x":2.3,"y":-2.9,"z":0.03},{"x":2.3,"y":-3.1,"z":0.03},
{"x":2.5,"y":3.1,"z":0.03},{"x":2.5,"y":2.9,"z":0.03},{"x":2.5,"y":2.7,"z":0.03},{"x":2.5,"y":2.5,"z":0.03},{"x":2.5,"y":2.3,"z":0.03},{"x":2.5,"y":2.1,"z":0.03},{"x":2.5,"y":1.9,"z":0.03},{"x":2.5,"y":1.7,"z":0.03},{"x":2.5,"y":1.5,"z":0.03},{"x":2.5,"y":1.3,"z":0.03},{"x":2.5,"y":1.1,"z":0.03},{"x":2.5,"y":0.9,"z":0.03},{"x":2.5,"y":0.7,"z":0.03},{"x":2.5,"y":0.5,"z":0.03},{"x":2.5,"y":0.3,"z":0.03},{"x":2.5,"y":0.1,"z":0.03},{"x":2.5,"y":-0.1,"z":0.03},{"x":2.5,"y":-0.3,"z":0.03},{"x":2.5,"y":-0.5,"z":0.03},{"x":2.5,"y":-0.7,"z":0.03},{"x":2.5,"y":-0.9,"z":0.03},{"x":2.5,"y":-1.1,"z":0.03},{"x":2.5,"y":-1.3,"z":0.03},{"x":2.5,"y":-1.5,"z":0.03},{"x":2.5,"y":-1.7,"z":0.03},{"x":2.5,"y":-1.9,"z":0.03},{"x":2.5,"y":-2.1,"z":0.03},{"x":2.5,"y":-2.3,"z":0.03},{"x":2.5,"y":-2.5,"z":0.03},{"x":2.5,"y":-2.7,"z":0.03},{"x":2.5,"y":-2.9,"z":0.03},{"x":2.5,"y":-3.1,"z":0.03},
{"x":2.7,"y":3.1,"z":0.03},{"x":2.7,"y":2.9,"z":0.03},{"x":2.7,"y":2.7,"z":0.03},{"x":2.7,"y":2.5,"z":0.03},{"x":2.7,"y":2.3,"z":0.03},{"x":2.7,"y":2.1,"z":0.03},{"x":2.7,"y":1.9,"z":0.03},{"x":2.7,"y":1.7,"z":0.03},{"x":2.7,"y":1.5,"z":0.03},{"x":2.7,"y":1.3,"z":0.03},{"x":2.7,"y":1.1,"z":0.03},{"x":2.7,"y":0.9,"z":0.03},{"x":2.7,"y":0.7,"z":0.03},{"x":2.7,"y":0.5,"z":0.03},{"x":2.7,"y":0.3,"z":0.03},{"x":2.7,"y":0.1,"z":0.03},{"x":2.7,"y":-0.1,"z":0.03},{"x":2.7,"y":-0.3,"z":0.03},{"x":2.7,"y":-0.5,"z":0.03},{"x":2.7,"y":-0.7,"z":0.03},{"x":2.7,"y":-0.9,"z":0.03},{"x":2.7,"y":-1.1,"z":0.03},{"x":2.7,"y":-1.3,"z":0.03},{"x":2.7,"y":-1.5,"z":0.03},{"x":2.7,"y":-1.7,"z":0.03},{"x":2.7,"y":-1.9,"z":0.03},{"x":2.7,"y":-2.1,"z":0.03},{"x":2.7,"y":-2.3,"z":0.03},{"x":2.7,"y":-2.5,"z":0.03},{"x":2.7,"y":-2.7,"z":0.03},{"x":2.7,"y":-2.9,"z":0.03},{"x":2.7,"y":-3.1,"z":0.03},
{"x":2.9,"y":3.1,"z":0.03},{"x":2.9,"y":2.9,"z":0.03},{"x":2.9,"y":2.7,"z":0.03},{"x":2.9,"y":2.5,"z":0.03},{"x":2.9,"y":2.3,"z":0.03},{"x":2.9,"y":2.1,"z":0.03},{"x":2.9,"y":1.9,"z":0.03},{"x":2.9,"y":1.7,"z":0.03},{"x":2.9,"y":1.5,"z":0.03},{"x":2.9,"y":1.3,"z":0.03},{"x":2.9,"y":1.1,"z":0.03},{"x":2.9,"y":0.9,"z":0.03},{"x":2.9,"y":0.7,"z":0.03},{"x":2.9,"y":0.5,"z":0.03},{"x":2.9,"y":0.3,"z":0.03},{"x":2.9,"y":0.1,"z":0.03},{"x":2.9,"y":-0.1,"z":0.03},{"x":2.9,"y":-0.3,"z":0.03},{"x":2.9,"y":-0.5,"z":0.03},{"x":2.9,"y":-0.7,"z":0.03},{"x":2.9,"y":-0.9,"z":0.03},{"x":2.9,"y":-1.1,"z":0.03},{"x":2.9,"y":-1.3,"z":0.03},{"x":2.9,"y":-1.5,"z":0.03},{"x":2.9,"y":-1.7,"z":0.03},{"x":2.9,"y":-1.9,"z":0.03},{"x":2.9,"y":-2.1,"z":0.03},{"x":2.9,"y":-2.3,"z":0.03},{"x":2.9,"y":-2.5,"z":0.03},{"x":2.9,"y":-2.7,"z":0.03},{"x":2.9,"y":-2.9,"z":0.03},{"x":2.9,"y":-3.1,"z":0.03},
{"x":3.1,"y":3.1,"z":0.03},{"x":3.1,"y":2.9,"z":0.03},{"x":3.1,"y":2.7,"z":0.03},{"x":3.1,"y":2.5,"z":0.03},{"x":3.1,"y":2.3,"z":0.03},{"x":3.1,"y":2.1,"z":0.03},{"x":3.1,"y":1.9,"z":0.03},{"x":3.1,"y":1.7,"z":0.03},{"x":3.1,"y":1.5,"z":0.03},{"x":3.1,"y":1.3,"z":0.03},{"x":3.1,"y":1.1,"z":0.03},{"x":3.1,"y":0.9,"z":0.03},{"x":3.1,"y":0.7,"z":0.03},{"x":3.1,"y":0.5,"z":0.03},{"x":3.1,"y":0.3,"z":0.03},{"x":3.1,"y":0.1,"z":0.03},{"x":3.1,"y":-0.1,"z":0.03},{"x":3.1,"y":-0.3,"z":0.03},{"x":3.1,"y":-0.5,"z":0.03},{"x":3.1,"y":-0.7,"z":0.03},{"x":3.1,"y":-0.9,"z":0.03},{"x":3.1,"y":-1.1,"z":0.03},{"x":3.1,"y":-1.3,"z":0.03},{"x":3.1,"y":-1.5,"z":0.03},{"x":3.1,"y":-1.7,"z":0.03},{"x":3.1,"y":-1.9,"z":0.03},{"x":3.1,"y":-2.1,"z":0.03},{"x":3.1,"y":-2.3,"z":0.03},{"x":3.1,"y":-2.5,"z":0.03},{"x":3.1,"y":-2.7,"z":0.03},{"x":3.1,"y":-2.9,"z":0.03},{"x":3.1,"y":-3.1,"z":0.03}
]},
"mark":{"type":"rect","clip":true,"binSpacing":0,"strokeWidth":0.6},
"encoding":{
"x":{"field":"x","type":"quantitative","bin":{"step":0.2,"anchor":1.4,"extent":[1.4,3.2]},"scale":{"domain":[-3.14159,3.14159],"nice":false,"zero":false}},
"y":{"field":"y","type":"quantitative","bin":{"step":0.2,"anchor":-3.2,"extent":[-3.2,3.2]},"scale":{"domain":[-3.14159,3.14159],"nice":false,"zero":false}},
"color":{"field":"z","type":"quantitative","scale":{"type":"quantize","domain":[-0.967,1.173],"nice":false,"range":["#440154","#471466","#482676","#453681","#404788","#39558c","#33638d","#2d708e","#287d8e","#238a8d","#1f978a","#20a386","#2ab07f","#3dbc74","#57c666","#74cf55","#96d83f","#badf28","#dde319","#fde725"]},"legend":null},
"stroke":{"field":"z","type":"quantitative","scale":{"type":"quantize","domain":[-0.967,1.173],"nice":false,"range":["#440154","#471466","#482676","#453681","#404788","#39558c","#33638d","#2d708e","#287d8e","#238a8d","#1f978a","#20a386","#2ab07f","#3dbc74","#57c666","#74cf55","#96d83f","#badf28","#dde319","#fde725"]},"legend":null}
}}
]},
{"width":16,"height":665,"view":{"stroke":null},
"layer":[
{"data":{"values":[{"lo":-0.967,"hi":-0.86,"mid":-0.913},{"lo":-0.86,"hi":-0.753,"mid":-0.806},{"lo":-0.753,"hi":-0.646,"mid":-0.699},{"lo":-0.646,"hi":-0.539,"mid":-0.592},{"lo":-0.539,"hi":-0.432,"mid":-0.485},{"lo":-0.432,"hi":-0.325,"mid":-0.378},{"lo":-0.325,"hi":-0.218,"mid":-0.271},{"lo":-0.218,"hi":-0.111,"mid":-0.164},{"lo":-0.111,"hi":-0.004,"mid":-0.057},{"lo":-0.004,"hi":0.103,"mid":0.05},{"lo":0.103,"hi":0.21,"mid":0.157},{"lo":0.21,"hi":0.317,"mid":0.264},{"lo":0.317,"hi":0.424,"mid":0.371},{"lo":0.424,"hi":0.531,"mid":0.478},{"lo":0.531,"hi":0.638,"mid":0.585},{"lo":0.638,"hi":0.745,"mid":0.692},{"lo":0.745,"hi":0.852,"mid":0.799},{"lo":0.852,"hi":0.959,"mid":0.906},{"lo":0.959,"hi":1.066,"mid":1.013},{"lo":1.066,"hi":1.173,"mid":1.12}]},
"mark":{"type":"rect"},
"encoding":{
"y":{"field":"lo","type":"quantitative","scale":{"domain":[-1.264,1.478],"nice":false,"zero":false},"axis":{"orient":"right","values":[-0.5,0,0.5,1],"format":".1f","labelPadding":4}},
"y2":{"field":"hi"},
"color":{"field":"mid","type":"quantitative","scale":{"type":"quantize","domain":[-0.967,1.173],"nice":false,"range":["#440154","#471466","#482676","#453681","#404788","#39558c","#33638d","#2d708e","#287d8e","#238a8d","#1f978a","#20a386","#2ab07f","#3dbc74","#57c666","#74cf55","#96d83f","#badf28","#dde319","#fde725"]},"legend":null}}},
{"data":{"values":[{"lo":-0.967,"hi":1.173}]},
"mark":{"type":"rect","filled":false,"stroke":"#5a5a5a","strokeWidth":1},
"encoding":{"y":{"field":"lo","type":"quantitative"},"y2":{"field":"hi"}}}
]}
]}
